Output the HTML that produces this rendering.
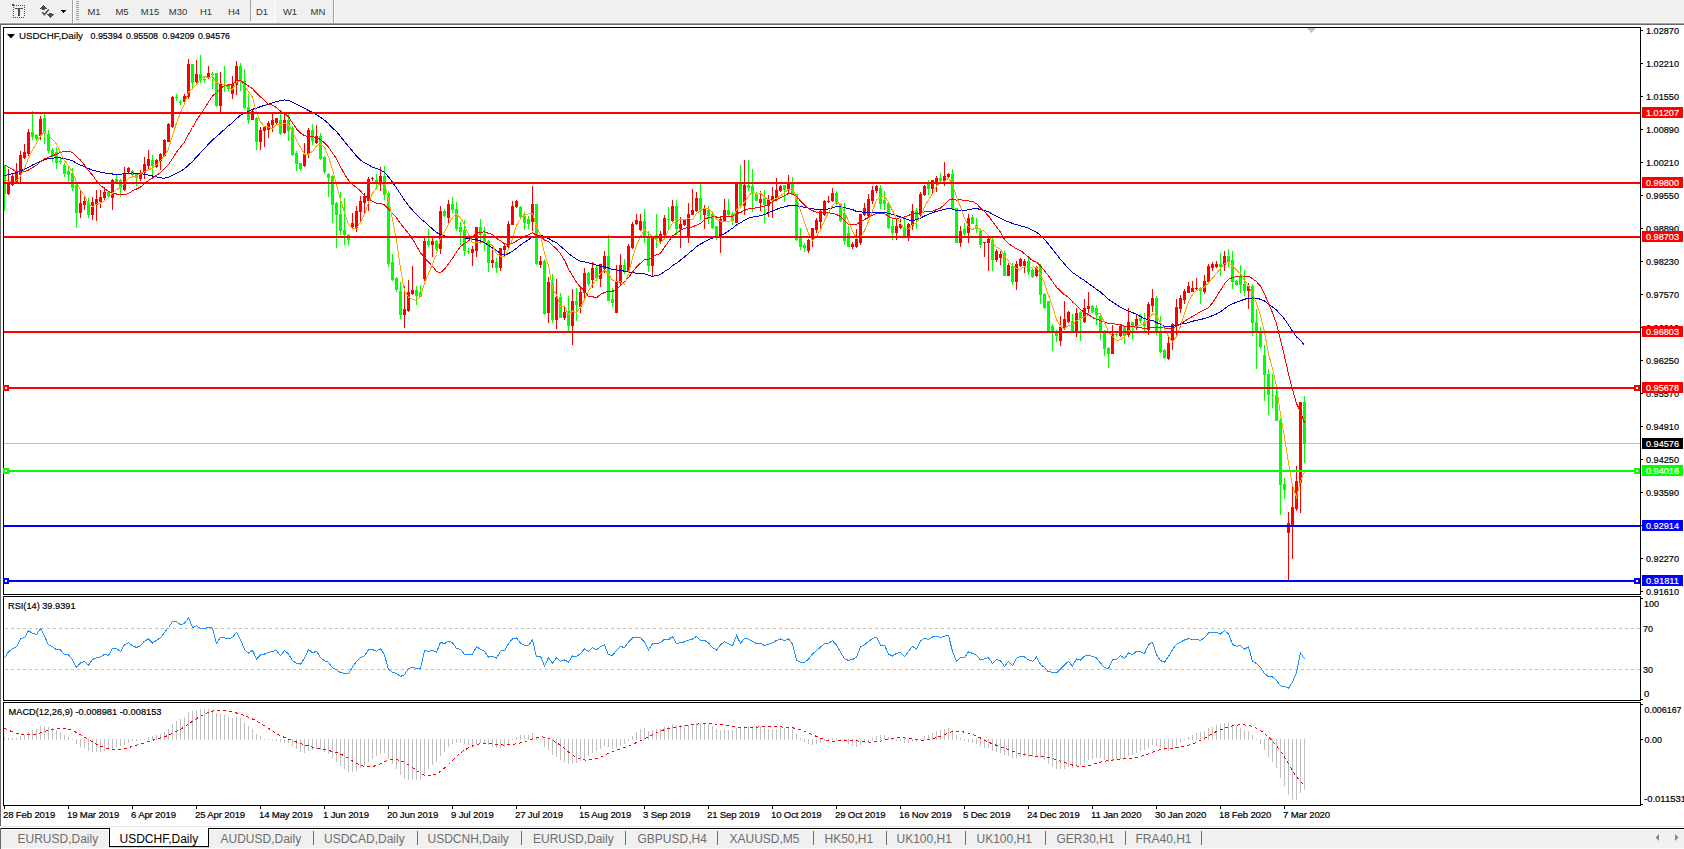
<!DOCTYPE html><html><head><meta charset="utf-8"><title>USDCHF,Daily</title><style>html,body{margin:0;padding:0;background:#fff;overflow:hidden}body{width:1684px;height:849px}svg{display:block}text{font-family:"Liberation Sans", sans-serif}</style></head><body><svg width="1684" height="849" viewBox="0 0 1684 849" font-family='"Liberation Sans", sans-serif' shape-rendering="crispEdges"><rect x="0" y="0" width="1684" height="849" fill="#ffffff"/><rect x="0" y="0" width="1684" height="22" fill="#f0f0f0"/><rect x="0" y="22" width="1684" height="1" fill="#f5f5f5"/><rect x="0" y="23" width="1684" height="1" fill="#a0a0a0"/><rect x="0" y="24" width="1684" height="1" fill="#696969"/><rect x="0" y="24" width="1" height="802" fill="#696969"/><rect x="16" y="5" width="1" height="1" fill="#4d4d4d"/><rect x="18" y="5" width="1" height="1" fill="#4d4d4d"/><rect x="20" y="5" width="1" height="1" fill="#4d4d4d"/><rect x="22" y="5" width="1" height="1" fill="#4d4d4d"/><rect x="24" y="5" width="1" height="1" fill="#4d4d4d"/><rect x="13" y="17" width="1" height="1" fill="#4d4d4d"/><rect x="15" y="17" width="1" height="1" fill="#4d4d4d"/><rect x="17" y="17" width="1" height="1" fill="#4d4d4d"/><rect x="19" y="17" width="1" height="1" fill="#4d4d4d"/><rect x="21" y="17" width="1" height="1" fill="#4d4d4d"/><rect x="23" y="17" width="1" height="1" fill="#4d4d4d"/><rect x="13" y="7" width="1" height="1" fill="#4d4d4d"/><rect x="13" y="9" width="1" height="1" fill="#4d4d4d"/><rect x="13" y="11" width="1" height="1" fill="#4d4d4d"/><rect x="13" y="13" width="1" height="1" fill="#4d4d4d"/><rect x="13" y="15" width="1" height="1" fill="#4d4d4d"/><rect x="24" y="7" width="1" height="1" fill="#4d4d4d"/><rect x="24" y="9" width="1" height="1" fill="#4d4d4d"/><rect x="24" y="11" width="1" height="1" fill="#4d4d4d"/><rect x="24" y="13" width="1" height="1" fill="#4d4d4d"/><rect x="24" y="15" width="1" height="1" fill="#4d4d4d"/><rect x="12" y="4" width="2" height="1" fill="#4d4d4d"/><rect x="12" y="5" width="3" height="1" fill="#4d4d4d"/><rect x="15" y="8" width="8" height="1" fill="#4d4d4d"/><rect x="18" y="8" width="2" height="8" fill="#4d4d4d"/><rect x="43" y="5" width="1" height="1" fill="#4d4d4d"/><rect x="42" y="6" width="3" height="1" fill="#4d4d4d"/><rect x="41" y="7" width="5" height="1" fill="#4d4d4d"/><rect x="40" y="8" width="7" height="1" fill="#4d4d4d"/><rect x="42" y="9" width="3" height="1" fill="#4d4d4d"/><rect x="49" y="13" width="3" height="1" fill="#4d4d4d"/><rect x="47" y="14" width="7" height="1" fill="#4d4d4d"/><rect x="48" y="15" width="5" height="1" fill="#4d4d4d"/><rect x="49" y="16" width="3" height="1" fill="#4d4d4d"/><rect x="50" y="17" width="1" height="1" fill="#4d4d4d"/><path d="M42.2 12.3 L44.4 14.6 L48.8 9.6" fill="none" stroke="#4d4d4d" stroke-width="1.5" shape-rendering="auto"/><rect x="61" y="10" width="5" height="1" fill="#000"/><rect x="62" y="11" width="3" height="1" fill="#000"/><rect x="63" y="12" width="1" height="1" fill="#000"/><rect x="72" y="0" width="1" height="23" fill="#a0a0a0"/><rect x="73" y="0" width="1" height="23" fill="#ffffff"/><rect x="76" y="1" width="3" height="1" fill="#a0a0a0"/><rect x="76" y="3" width="3" height="1" fill="#a0a0a0"/><rect x="76" y="5" width="3" height="1" fill="#a0a0a0"/><rect x="76" y="7" width="3" height="1" fill="#a0a0a0"/><rect x="76" y="9" width="3" height="1" fill="#a0a0a0"/><rect x="76" y="11" width="3" height="1" fill="#a0a0a0"/><rect x="76" y="13" width="3" height="1" fill="#a0a0a0"/><rect x="76" y="15" width="3" height="1" fill="#a0a0a0"/><rect x="76" y="17" width="3" height="1" fill="#a0a0a0"/><rect x="76" y="19" width="3" height="1" fill="#a0a0a0"/><defs><pattern id="chk" width="2" height="2" patternUnits="userSpaceOnUse"><rect width="2" height="2" fill="#f0f0f0"/><rect width="1" height="1" fill="#f8f8f8"/><rect x="1" y="1" width="1" height="1" fill="#f8f8f8"/></pattern></defs><rect x="251" y="1" width="24" height="20" fill="url(#chk)"/><rect x="250" y="0" width="1" height="21" fill="#a0a0a0"/><rect x="250" y="21" width="26" height="1" fill="#ffffff"/><rect x="275" y="0" width="1" height="22" fill="#ffffff"/><rect x="333" y="0" width="1" height="23" fill="#a0a0a0"/><rect x="334" y="0" width="1" height="23" fill="#ffffff"/><text x="94" y="15" font-size="9.5" fill="#333333" text-anchor="middle">M1</text><text x="122" y="15" font-size="9.5" fill="#333333" text-anchor="middle">M5</text><text x="150" y="15" font-size="9.5" fill="#333333" text-anchor="middle">M15</text><text x="178" y="15" font-size="9.5" fill="#333333" text-anchor="middle">M30</text><text x="206" y="15" font-size="9.5" fill="#333333" text-anchor="middle">H1</text><text x="234" y="15" font-size="9.5" fill="#333333" text-anchor="middle">H4</text><text x="262" y="15" font-size="9.5" fill="#333333" text-anchor="middle">D1</text><text x="290" y="15" font-size="9.5" fill="#333333" text-anchor="middle">W1</text><text x="318" y="15" font-size="9.5" fill="#333333" text-anchor="middle">MN</text><rect x="3" y="27" width="1638" height="1" fill="#000"/><rect x="3" y="594" width="1638" height="1" fill="#000"/><rect x="3" y="27" width="1" height="568" fill="#000"/><rect x="1640" y="27" width="1" height="568" fill="#000"/><rect x="3" y="596" width="1638" height="1" fill="#000"/><rect x="3" y="700" width="1638" height="1" fill="#000"/><rect x="3" y="596" width="1" height="105" fill="#000"/><rect x="1640" y="596" width="1" height="105" fill="#000"/><rect x="3" y="702" width="1638" height="1" fill="#000"/><rect x="3" y="805" width="1638" height="1" fill="#000"/><rect x="3" y="702" width="1" height="104" fill="#000"/><rect x="1640" y="702" width="1" height="104" fill="#000"/><rect x="1641" y="30" width="2" height="1" fill="#000"/><text x="1646" y="34" font-size="9.6" fill="#000" stroke="#000" stroke-width="0.2" textLength="33" lengthAdjust="spacingAndGlyphs">1.02870</text><rect x="1641" y="63" width="2" height="1" fill="#000"/><text x="1646" y="67" font-size="9.6" fill="#000" stroke="#000" stroke-width="0.2" textLength="33" lengthAdjust="spacingAndGlyphs">1.02210</text><rect x="1641" y="96" width="2" height="1" fill="#000"/><text x="1646" y="100" font-size="9.6" fill="#000" stroke="#000" stroke-width="0.2" textLength="33" lengthAdjust="spacingAndGlyphs">1.01550</text><rect x="1641" y="129" width="2" height="1" fill="#000"/><text x="1646" y="133" font-size="9.6" fill="#000" stroke="#000" stroke-width="0.2" textLength="33" lengthAdjust="spacingAndGlyphs">1.00890</text><rect x="1641" y="162" width="2" height="1" fill="#000"/><text x="1646" y="166" font-size="9.6" fill="#000" stroke="#000" stroke-width="0.2" textLength="33" lengthAdjust="spacingAndGlyphs">1.00210</text><rect x="1641" y="195" width="2" height="1" fill="#000"/><text x="1646" y="199" font-size="9.6" fill="#000" stroke="#000" stroke-width="0.2" textLength="33" lengthAdjust="spacingAndGlyphs">0.99550</text><rect x="1641" y="228" width="2" height="1" fill="#000"/><text x="1646" y="232" font-size="9.6" fill="#000" stroke="#000" stroke-width="0.2" textLength="33" lengthAdjust="spacingAndGlyphs">0.98890</text><rect x="1641" y="261" width="2" height="1" fill="#000"/><text x="1646" y="265" font-size="9.6" fill="#000" stroke="#000" stroke-width="0.2" textLength="33" lengthAdjust="spacingAndGlyphs">0.98230</text><rect x="1641" y="294" width="2" height="1" fill="#000"/><text x="1646" y="298" font-size="9.6" fill="#000" stroke="#000" stroke-width="0.2" textLength="33" lengthAdjust="spacingAndGlyphs">0.97570</text><rect x="1641" y="327" width="2" height="1" fill="#000"/><text x="1646" y="331" font-size="9.6" fill="#000" stroke="#000" stroke-width="0.2" textLength="33" lengthAdjust="spacingAndGlyphs">0.96910</text><rect x="1641" y="360" width="2" height="1" fill="#000"/><text x="1646" y="364" font-size="9.6" fill="#000" stroke="#000" stroke-width="0.2" textLength="33" lengthAdjust="spacingAndGlyphs">0.96250</text><rect x="1641" y="393" width="2" height="1" fill="#000"/><text x="1646" y="397" font-size="9.6" fill="#000" stroke="#000" stroke-width="0.2" textLength="33" lengthAdjust="spacingAndGlyphs">0.95570</text><rect x="1641" y="426" width="2" height="1" fill="#000"/><text x="1646" y="430" font-size="9.6" fill="#000" stroke="#000" stroke-width="0.2" textLength="33" lengthAdjust="spacingAndGlyphs">0.94910</text><rect x="1641" y="459" width="2" height="1" fill="#000"/><text x="1646" y="463" font-size="9.6" fill="#000" stroke="#000" stroke-width="0.2" textLength="33" lengthAdjust="spacingAndGlyphs">0.94250</text><rect x="1641" y="492" width="2" height="1" fill="#000"/><text x="1646" y="496" font-size="9.6" fill="#000" stroke="#000" stroke-width="0.2" textLength="33" lengthAdjust="spacingAndGlyphs">0.93590</text><rect x="1641" y="525" width="2" height="1" fill="#000"/><text x="1646" y="529" font-size="9.6" fill="#000" stroke="#000" stroke-width="0.2" textLength="33" lengthAdjust="spacingAndGlyphs">0.92930</text><rect x="1641" y="558" width="2" height="1" fill="#000"/><text x="1646" y="562" font-size="9.6" fill="#000" stroke="#000" stroke-width="0.2" textLength="33" lengthAdjust="spacingAndGlyphs">0.92270</text><rect x="1641" y="591" width="2" height="1" fill="#000"/><text x="1646" y="595" font-size="9.6" fill="#000" stroke="#000" stroke-width="0.2" textLength="33" lengthAdjust="spacingAndGlyphs">0.91610</text><rect x="4" y="443" width="1636" height="1" fill="#c0c0c0"/><defs><clipPath id="cm"><rect x="4" y="28" width="1636" height="566"/></clipPath><clipPath id="cr"><rect x="4" y="597" width="1636" height="103"/></clipPath><clipPath id="cd"><rect x="4" y="703" width="1636" height="102"/></clipPath></defs><g clip-path="url(#cm)"><rect x="4" y="165" width="1" height="46" fill="#00ff00"/><rect x="3" y="166" width="3" height="28" fill="#00ff00"/><rect x="8" y="169" width="1" height="26" fill="#ff0000"/><rect x="7" y="182" width="3" height="12" fill="#ff0000"/><rect x="12" y="174" width="1" height="12" fill="#ff0000"/><rect x="11" y="176" width="3" height="9" fill="#ff0000"/><rect x="16" y="163" width="1" height="20" fill="#ff0000"/><rect x="15" y="173" width="3" height="9" fill="#ff0000"/><rect x="20" y="151" width="1" height="31" fill="#ff0000"/><rect x="19" y="155" width="3" height="20" fill="#ff0000"/><rect x="24" y="144" width="1" height="15" fill="#ff0000"/><rect x="23" y="152" width="3" height="6" fill="#ff0000"/><rect x="28" y="129" width="1" height="27" fill="#ff0000"/><rect x="27" y="132" width="3" height="22" fill="#ff0000"/><rect x="32" y="111" width="1" height="29" fill="#00ff00"/><rect x="31" y="132" width="3" height="5" fill="#00ff00"/><rect x="36" y="134" width="1" height="7" fill="#00ff00"/><rect x="35" y="135" width="3" height="4" fill="#00ff00"/><rect x="40" y="116" width="1" height="24" fill="#ff0000"/><rect x="39" y="119" width="3" height="17" fill="#ff0000"/><rect x="44" y="114" width="1" height="30" fill="#00ff00"/><rect x="43" y="118" width="3" height="15" fill="#00ff00"/><rect x="48" y="130" width="1" height="23" fill="#00ff00"/><rect x="47" y="134" width="3" height="17" fill="#00ff00"/><rect x="52" y="148" width="1" height="14" fill="#00ff00"/><rect x="51" y="150" width="3" height="5" fill="#00ff00"/><rect x="56" y="147" width="1" height="22" fill="#00ff00"/><rect x="55" y="152" width="3" height="11" fill="#00ff00"/><rect x="60" y="158" width="1" height="6" fill="#00ff00"/><rect x="59" y="161" width="3" height="1" fill="#00ff00"/><rect x="64" y="163" width="1" height="14" fill="#00ff00"/><rect x="63" y="165" width="3" height="9" fill="#00ff00"/><rect x="68" y="165" width="1" height="18" fill="#00ff00"/><rect x="67" y="171" width="3" height="4" fill="#00ff00"/><rect x="72" y="168" width="1" height="23" fill="#00ff00"/><rect x="71" y="173" width="3" height="15" fill="#00ff00"/><rect x="76" y="183" width="1" height="45" fill="#00ff00"/><rect x="75" y="185" width="3" height="28" fill="#00ff00"/><rect x="80" y="189" width="1" height="29" fill="#ff0000"/><rect x="79" y="203" width="3" height="10" fill="#ff0000"/><rect x="84" y="197" width="1" height="13" fill="#ff0000"/><rect x="83" y="201" width="3" height="4" fill="#ff0000"/><rect x="88" y="198" width="1" height="20" fill="#00ff00"/><rect x="87" y="203" width="3" height="12" fill="#00ff00"/><rect x="92" y="197" width="1" height="23" fill="#ff0000"/><rect x="91" y="202" width="3" height="13" fill="#ff0000"/><rect x="96" y="190" width="1" height="31" fill="#ff0000"/><rect x="95" y="199" width="3" height="6" fill="#ff0000"/><rect x="100" y="190" width="1" height="18" fill="#ff0000"/><rect x="99" y="197" width="3" height="5" fill="#ff0000"/><rect x="104" y="187" width="1" height="13" fill="#ff0000"/><rect x="103" y="192" width="3" height="6" fill="#ff0000"/><rect x="108" y="192" width="1" height="6" fill="#00ff00"/><rect x="107" y="192" width="3" height="4" fill="#00ff00"/><rect x="112" y="179" width="1" height="31" fill="#ff0000"/><rect x="111" y="180" width="3" height="18" fill="#ff0000"/><rect x="116" y="174" width="1" height="9" fill="#00ff00"/><rect x="115" y="179" width="3" height="3" fill="#00ff00"/><rect x="120" y="179" width="1" height="18" fill="#00ff00"/><rect x="119" y="180" width="3" height="8" fill="#00ff00"/><rect x="124" y="167" width="1" height="24" fill="#ff0000"/><rect x="123" y="173" width="3" height="17" fill="#ff0000"/><rect x="128" y="167" width="1" height="7" fill="#ff0000"/><rect x="127" y="168" width="3" height="4" fill="#ff0000"/><rect x="132" y="170" width="1" height="6" fill="#00ff00"/><rect x="131" y="171" width="3" height="4" fill="#00ff00"/><rect x="136" y="173" width="1" height="13" fill="#00ff00"/><rect x="135" y="174" width="3" height="4" fill="#00ff00"/><rect x="140" y="170" width="1" height="11" fill="#ff0000"/><rect x="139" y="174" width="3" height="5" fill="#ff0000"/><rect x="144" y="157" width="1" height="22" fill="#ff0000"/><rect x="143" y="164" width="3" height="9" fill="#ff0000"/><rect x="148" y="150" width="1" height="20" fill="#ff0000"/><rect x="147" y="159" width="3" height="7" fill="#ff0000"/><rect x="152" y="155" width="1" height="21" fill="#00ff00"/><rect x="151" y="160" width="3" height="6" fill="#00ff00"/><rect x="156" y="159" width="1" height="9" fill="#ff0000"/><rect x="155" y="160" width="3" height="7" fill="#ff0000"/><rect x="160" y="153" width="1" height="17" fill="#ff0000"/><rect x="159" y="154" width="3" height="7" fill="#ff0000"/><rect x="164" y="139" width="1" height="17" fill="#ff0000"/><rect x="163" y="140" width="3" height="16" fill="#ff0000"/><rect x="168" y="123" width="1" height="19" fill="#ff0000"/><rect x="167" y="124" width="3" height="18" fill="#ff0000"/><rect x="172" y="96" width="1" height="32" fill="#ff0000"/><rect x="171" y="97" width="3" height="30" fill="#ff0000"/><rect x="176" y="94" width="1" height="7" fill="#00ff00"/><rect x="175" y="97" width="3" height="1" fill="#00ff00"/><rect x="180" y="100" width="1" height="5" fill="#00ff00"/><rect x="179" y="102" width="3" height="1" fill="#00ff00"/><rect x="184" y="94" width="1" height="9" fill="#ff0000"/><rect x="183" y="96" width="3" height="6" fill="#ff0000"/><rect x="188" y="59" width="1" height="40" fill="#ff0000"/><rect x="187" y="64" width="3" height="33" fill="#ff0000"/><rect x="192" y="64" width="1" height="25" fill="#00ff00"/><rect x="191" y="64" width="3" height="19" fill="#00ff00"/><rect x="196" y="60" width="1" height="23" fill="#ff0000"/><rect x="195" y="74" width="3" height="8" fill="#ff0000"/><rect x="200" y="55" width="1" height="28" fill="#00ff00"/><rect x="199" y="74" width="3" height="6" fill="#00ff00"/><rect x="204" y="76" width="1" height="7" fill="#00ff00"/><rect x="203" y="79" width="3" height="1" fill="#00ff00"/><rect x="208" y="66" width="1" height="13" fill="#ff0000"/><rect x="207" y="73" width="3" height="4" fill="#ff0000"/><rect x="212" y="72" width="1" height="17" fill="#00ff00"/><rect x="211" y="74" width="3" height="1" fill="#00ff00"/><rect x="216" y="73" width="1" height="34" fill="#00ff00"/><rect x="215" y="73" width="3" height="33" fill="#00ff00"/><rect x="220" y="72" width="1" height="40" fill="#ff0000"/><rect x="219" y="84" width="3" height="22" fill="#ff0000"/><rect x="224" y="66" width="1" height="26" fill="#00ff00"/><rect x="223" y="84" width="3" height="1" fill="#00ff00"/><rect x="228" y="84" width="1" height="7" fill="#00ff00"/><rect x="227" y="84" width="3" height="5" fill="#00ff00"/><rect x="232" y="76" width="1" height="23" fill="#ff0000"/><rect x="231" y="84" width="3" height="10" fill="#ff0000"/><rect x="236" y="61" width="1" height="34" fill="#ff0000"/><rect x="235" y="66" width="3" height="19" fill="#ff0000"/><rect x="240" y="63" width="1" height="28" fill="#00ff00"/><rect x="239" y="66" width="3" height="16" fill="#00ff00"/><rect x="244" y="69" width="1" height="40" fill="#00ff00"/><rect x="243" y="81" width="3" height="27" fill="#00ff00"/><rect x="248" y="94" width="1" height="30" fill="#00ff00"/><rect x="247" y="107" width="3" height="13" fill="#00ff00"/><rect x="252" y="110" width="1" height="10" fill="#ff0000"/><rect x="251" y="111" width="3" height="9" fill="#ff0000"/><rect x="256" y="117" width="1" height="33" fill="#00ff00"/><rect x="255" y="118" width="3" height="24" fill="#00ff00"/><rect x="260" y="127" width="1" height="23" fill="#ff0000"/><rect x="259" y="130" width="3" height="12" fill="#ff0000"/><rect x="264" y="127" width="1" height="20" fill="#ff0000"/><rect x="263" y="127" width="3" height="4" fill="#ff0000"/><rect x="268" y="121" width="1" height="17" fill="#ff0000"/><rect x="267" y="123" width="3" height="7" fill="#ff0000"/><rect x="272" y="114" width="1" height="18" fill="#ff0000"/><rect x="271" y="120" width="3" height="5" fill="#ff0000"/><rect x="276" y="118" width="1" height="7" fill="#ff0000"/><rect x="275" y="118" width="3" height="5" fill="#ff0000"/><rect x="280" y="114" width="1" height="21" fill="#00ff00"/><rect x="279" y="120" width="3" height="14" fill="#00ff00"/><rect x="284" y="113" width="1" height="21" fill="#ff0000"/><rect x="283" y="120" width="3" height="13" fill="#ff0000"/><rect x="288" y="114" width="1" height="27" fill="#00ff00"/><rect x="287" y="120" width="3" height="11" fill="#00ff00"/><rect x="292" y="126" width="1" height="30" fill="#00ff00"/><rect x="291" y="128" width="3" height="27" fill="#00ff00"/><rect x="296" y="151" width="1" height="20" fill="#00ff00"/><rect x="295" y="153" width="3" height="11" fill="#00ff00"/><rect x="300" y="163" width="1" height="8" fill="#00ff00"/><rect x="299" y="163" width="3" height="6" fill="#00ff00"/><rect x="304" y="143" width="1" height="24" fill="#ff0000"/><rect x="303" y="154" width="3" height="12" fill="#ff0000"/><rect x="308" y="128" width="1" height="30" fill="#ff0000"/><rect x="307" y="130" width="3" height="24" fill="#ff0000"/><rect x="312" y="124" width="1" height="21" fill="#00ff00"/><rect x="311" y="130" width="3" height="11" fill="#00ff00"/><rect x="316" y="125" width="1" height="19" fill="#ff0000"/><rect x="315" y="136" width="3" height="7" fill="#ff0000"/><rect x="320" y="133" width="1" height="27" fill="#00ff00"/><rect x="319" y="136" width="3" height="23" fill="#00ff00"/><rect x="324" y="156" width="1" height="18" fill="#00ff00"/><rect x="323" y="157" width="3" height="15" fill="#00ff00"/><rect x="328" y="173" width="1" height="24" fill="#00ff00"/><rect x="327" y="174" width="3" height="4" fill="#00ff00"/><rect x="332" y="175" width="1" height="48" fill="#00ff00"/><rect x="331" y="176" width="3" height="29" fill="#00ff00"/><rect x="336" y="202" width="1" height="46" fill="#00ff00"/><rect x="335" y="203" width="3" height="12" fill="#00ff00"/><rect x="340" y="192" width="1" height="43" fill="#00ff00"/><rect x="339" y="214" width="3" height="17" fill="#00ff00"/><rect x="344" y="198" width="1" height="47" fill="#00ff00"/><rect x="343" y="230" width="3" height="5" fill="#00ff00"/><rect x="348" y="234" width="1" height="11" fill="#00ff00"/><rect x="347" y="235" width="3" height="5" fill="#00ff00"/><rect x="352" y="213" width="1" height="15" fill="#ff0000"/><rect x="351" y="223" width="3" height="4" fill="#ff0000"/><rect x="356" y="206" width="1" height="26" fill="#ff0000"/><rect x="355" y="211" width="3" height="17" fill="#ff0000"/><rect x="360" y="196" width="1" height="27" fill="#ff0000"/><rect x="359" y="201" width="3" height="11" fill="#ff0000"/><rect x="364" y="193" width="1" height="22" fill="#ff0000"/><rect x="363" y="196" width="3" height="7" fill="#ff0000"/><rect x="368" y="177" width="1" height="34" fill="#ff0000"/><rect x="367" y="179" width="3" height="22" fill="#ff0000"/><rect x="372" y="177" width="1" height="4" fill="#ff0000"/><rect x="371" y="178" width="3" height="1" fill="#ff0000"/><rect x="376" y="174" width="1" height="15" fill="#00ff00"/><rect x="375" y="180" width="3" height="3" fill="#00ff00"/><rect x="380" y="167" width="1" height="24" fill="#ff0000"/><rect x="379" y="176" width="3" height="8" fill="#ff0000"/><rect x="384" y="166" width="1" height="34" fill="#00ff00"/><rect x="383" y="176" width="3" height="19" fill="#00ff00"/><rect x="388" y="191" width="1" height="76" fill="#00ff00"/><rect x="387" y="193" width="3" height="71" fill="#00ff00"/><rect x="392" y="254" width="1" height="27" fill="#00ff00"/><rect x="391" y="262" width="3" height="18" fill="#00ff00"/><rect x="396" y="277" width="1" height="15" fill="#00ff00"/><rect x="395" y="278" width="3" height="12" fill="#00ff00"/><rect x="400" y="282" width="1" height="37" fill="#00ff00"/><rect x="399" y="291" width="3" height="24" fill="#00ff00"/><rect x="404" y="286" width="1" height="42" fill="#ff0000"/><rect x="403" y="309" width="3" height="6" fill="#ff0000"/><rect x="408" y="280" width="1" height="32" fill="#ff0000"/><rect x="407" y="292" width="3" height="19" fill="#ff0000"/><rect x="412" y="266" width="1" height="29" fill="#ff0000"/><rect x="411" y="290" width="3" height="4" fill="#ff0000"/><rect x="416" y="286" width="1" height="19" fill="#00ff00"/><rect x="415" y="290" width="3" height="6" fill="#00ff00"/><rect x="420" y="286" width="1" height="11" fill="#00ff00"/><rect x="419" y="292" width="3" height="5" fill="#00ff00"/><rect x="424" y="238" width="1" height="43" fill="#ff0000"/><rect x="423" y="241" width="3" height="38" fill="#ff0000"/><rect x="428" y="229" width="1" height="18" fill="#00ff00"/><rect x="427" y="241" width="3" height="4" fill="#00ff00"/><rect x="432" y="238" width="1" height="19" fill="#ff0000"/><rect x="431" y="241" width="3" height="4" fill="#ff0000"/><rect x="436" y="240" width="1" height="11" fill="#00ff00"/><rect x="435" y="241" width="3" height="8" fill="#00ff00"/><rect x="440" y="206" width="1" height="48" fill="#ff0000"/><rect x="439" y="211" width="3" height="38" fill="#ff0000"/><rect x="444" y="209" width="1" height="8" fill="#00ff00"/><rect x="443" y="211" width="3" height="5" fill="#00ff00"/><rect x="448" y="200" width="1" height="24" fill="#ff0000"/><rect x="447" y="204" width="3" height="14" fill="#ff0000"/><rect x="452" y="197" width="1" height="16" fill="#00ff00"/><rect x="451" y="204" width="3" height="6" fill="#00ff00"/><rect x="456" y="202" width="1" height="29" fill="#00ff00"/><rect x="455" y="209" width="3" height="20" fill="#00ff00"/><rect x="460" y="222" width="1" height="23" fill="#00ff00"/><rect x="459" y="227" width="3" height="5" fill="#00ff00"/><rect x="464" y="220" width="1" height="36" fill="#00ff00"/><rect x="463" y="230" width="3" height="21" fill="#00ff00"/><rect x="468" y="248" width="1" height="6" fill="#00ff00"/><rect x="467" y="251" width="3" height="1" fill="#00ff00"/><rect x="472" y="246" width="1" height="20" fill="#ff0000"/><rect x="471" y="249" width="3" height="4" fill="#ff0000"/><rect x="476" y="227" width="1" height="30" fill="#ff0000"/><rect x="475" y="227" width="3" height="24" fill="#ff0000"/><rect x="480" y="219" width="1" height="21" fill="#00ff00"/><rect x="479" y="227" width="3" height="8" fill="#00ff00"/><rect x="484" y="227" width="1" height="24" fill="#00ff00"/><rect x="483" y="234" width="3" height="8" fill="#00ff00"/><rect x="488" y="240" width="1" height="32" fill="#00ff00"/><rect x="487" y="241" width="3" height="22" fill="#00ff00"/><rect x="492" y="250" width="1" height="18" fill="#ff0000"/><rect x="491" y="260" width="3" height="3" fill="#ff0000"/><rect x="496" y="258" width="1" height="15" fill="#00ff00"/><rect x="495" y="262" width="3" height="6" fill="#00ff00"/><rect x="500" y="248" width="1" height="23" fill="#ff0000"/><rect x="499" y="248" width="3" height="20" fill="#ff0000"/><rect x="504" y="243" width="1" height="12" fill="#ff0000"/><rect x="503" y="246" width="3" height="4" fill="#ff0000"/><rect x="508" y="221" width="1" height="28" fill="#ff0000"/><rect x="507" y="224" width="3" height="23" fill="#ff0000"/><rect x="512" y="201" width="1" height="24" fill="#ff0000"/><rect x="511" y="206" width="3" height="19" fill="#ff0000"/><rect x="516" y="200" width="1" height="8" fill="#ff0000"/><rect x="515" y="201" width="3" height="6" fill="#ff0000"/><rect x="520" y="206" width="1" height="13" fill="#00ff00"/><rect x="519" y="207" width="3" height="10" fill="#00ff00"/><rect x="524" y="212" width="1" height="18" fill="#00ff00"/><rect x="523" y="216" width="3" height="7" fill="#00ff00"/><rect x="528" y="216" width="1" height="13" fill="#00ff00"/><rect x="527" y="219" width="3" height="5" fill="#00ff00"/><rect x="532" y="186" width="1" height="45" fill="#ff0000"/><rect x="531" y="204" width="3" height="18" fill="#ff0000"/><rect x="536" y="204" width="1" height="61" fill="#00ff00"/><rect x="535" y="204" width="3" height="60" fill="#00ff00"/><rect x="540" y="256" width="1" height="12" fill="#ff0000"/><rect x="539" y="261" width="3" height="4" fill="#ff0000"/><rect x="544" y="259" width="1" height="56" fill="#00ff00"/><rect x="543" y="261" width="3" height="53" fill="#00ff00"/><rect x="548" y="277" width="1" height="46" fill="#ff0000"/><rect x="547" y="282" width="3" height="31" fill="#ff0000"/><rect x="552" y="274" width="1" height="49" fill="#00ff00"/><rect x="551" y="283" width="3" height="37" fill="#00ff00"/><rect x="556" y="279" width="1" height="50" fill="#ff0000"/><rect x="555" y="297" width="3" height="23" fill="#ff0000"/><rect x="560" y="293" width="1" height="25" fill="#00ff00"/><rect x="559" y="297" width="3" height="21" fill="#00ff00"/><rect x="564" y="307" width="1" height="13" fill="#ff0000"/><rect x="563" y="312" width="3" height="6" fill="#ff0000"/><rect x="568" y="296" width="1" height="36" fill="#00ff00"/><rect x="567" y="311" width="3" height="15" fill="#00ff00"/><rect x="572" y="289" width="1" height="56" fill="#ff0000"/><rect x="571" y="301" width="3" height="25" fill="#ff0000"/><rect x="576" y="288" width="1" height="33" fill="#00ff00"/><rect x="575" y="301" width="3" height="4" fill="#00ff00"/><rect x="580" y="286" width="1" height="27" fill="#ff0000"/><rect x="579" y="292" width="3" height="15" fill="#ff0000"/><rect x="584" y="268" width="1" height="30" fill="#ff0000"/><rect x="583" y="273" width="3" height="20" fill="#ff0000"/><rect x="588" y="272" width="1" height="14" fill="#00ff00"/><rect x="587" y="273" width="3" height="11" fill="#00ff00"/><rect x="592" y="262" width="1" height="26" fill="#ff0000"/><rect x="591" y="268" width="3" height="12" fill="#ff0000"/><rect x="596" y="265" width="1" height="16" fill="#00ff00"/><rect x="595" y="268" width="3" height="10" fill="#00ff00"/><rect x="600" y="264" width="1" height="23" fill="#ff0000"/><rect x="599" y="264" width="3" height="15" fill="#ff0000"/><rect x="604" y="251" width="1" height="22" fill="#ff0000"/><rect x="603" y="256" width="3" height="13" fill="#ff0000"/><rect x="608" y="235" width="1" height="66" fill="#00ff00"/><rect x="607" y="256" width="3" height="45" fill="#00ff00"/><rect x="612" y="288" width="1" height="19" fill="#00ff00"/><rect x="611" y="299" width="3" height="4" fill="#00ff00"/><rect x="616" y="265" width="1" height="48" fill="#ff0000"/><rect x="615" y="282" width="3" height="31" fill="#ff0000"/><rect x="620" y="254" width="1" height="31" fill="#ff0000"/><rect x="619" y="265" width="3" height="18" fill="#ff0000"/><rect x="624" y="259" width="1" height="15" fill="#00ff00"/><rect x="623" y="265" width="3" height="6" fill="#00ff00"/><rect x="628" y="244" width="1" height="28" fill="#ff0000"/><rect x="627" y="246" width="3" height="25" fill="#ff0000"/><rect x="632" y="222" width="1" height="27" fill="#ff0000"/><rect x="631" y="224" width="3" height="24" fill="#ff0000"/><rect x="636" y="214" width="1" height="11" fill="#ff0000"/><rect x="635" y="220" width="3" height="4" fill="#ff0000"/><rect x="640" y="214" width="1" height="17" fill="#ff0000"/><rect x="639" y="221" width="3" height="9" fill="#ff0000"/><rect x="644" y="209" width="1" height="34" fill="#00ff00"/><rect x="643" y="221" width="3" height="16" fill="#00ff00"/><rect x="648" y="231" width="1" height="41" fill="#00ff00"/><rect x="647" y="236" width="3" height="30" fill="#00ff00"/><rect x="652" y="236" width="1" height="40" fill="#ff0000"/><rect x="651" y="238" width="3" height="28" fill="#ff0000"/><rect x="656" y="214" width="1" height="34" fill="#00ff00"/><rect x="655" y="235" width="3" height="4" fill="#00ff00"/><rect x="660" y="231" width="1" height="13" fill="#ff0000"/><rect x="659" y="234" width="3" height="7" fill="#ff0000"/><rect x="664" y="215" width="1" height="21" fill="#ff0000"/><rect x="663" y="218" width="3" height="17" fill="#ff0000"/><rect x="668" y="207" width="1" height="24" fill="#00ff00"/><rect x="667" y="219" width="3" height="1" fill="#00ff00"/><rect x="672" y="200" width="1" height="22" fill="#ff0000"/><rect x="671" y="206" width="3" height="15" fill="#ff0000"/><rect x="676" y="200" width="1" height="35" fill="#00ff00"/><rect x="675" y="206" width="3" height="23" fill="#00ff00"/><rect x="680" y="217" width="1" height="31" fill="#ff0000"/><rect x="679" y="224" width="3" height="5" fill="#ff0000"/><rect x="684" y="220" width="1" height="6" fill="#ff0000"/><rect x="683" y="220" width="3" height="5" fill="#ff0000"/><rect x="688" y="203" width="1" height="40" fill="#ff0000"/><rect x="687" y="214" width="3" height="23" fill="#ff0000"/><rect x="692" y="189" width="1" height="26" fill="#ff0000"/><rect x="691" y="210" width="3" height="5" fill="#ff0000"/><rect x="696" y="192" width="1" height="20" fill="#ff0000"/><rect x="695" y="198" width="3" height="13" fill="#ff0000"/><rect x="700" y="184" width="1" height="36" fill="#00ff00"/><rect x="699" y="198" width="3" height="13" fill="#00ff00"/><rect x="704" y="205" width="1" height="24" fill="#ff0000"/><rect x="703" y="208" width="3" height="7" fill="#ff0000"/><rect x="708" y="206" width="1" height="18" fill="#00ff00"/><rect x="707" y="210" width="3" height="6" fill="#00ff00"/><rect x="712" y="211" width="1" height="18" fill="#00ff00"/><rect x="711" y="214" width="3" height="14" fill="#00ff00"/><rect x="716" y="226" width="1" height="14" fill="#00ff00"/><rect x="715" y="226" width="3" height="10" fill="#00ff00"/><rect x="720" y="218" width="1" height="35" fill="#ff0000"/><rect x="719" y="219" width="3" height="17" fill="#ff0000"/><rect x="724" y="199" width="1" height="22" fill="#ff0000"/><rect x="723" y="210" width="3" height="11" fill="#ff0000"/><rect x="728" y="199" width="1" height="18" fill="#00ff00"/><rect x="727" y="210" width="3" height="5" fill="#00ff00"/><rect x="732" y="212" width="1" height="13" fill="#00ff00"/><rect x="731" y="214" width="3" height="7" fill="#00ff00"/><rect x="736" y="183" width="1" height="40" fill="#ff0000"/><rect x="735" y="184" width="3" height="39" fill="#ff0000"/><rect x="740" y="165" width="1" height="42" fill="#00ff00"/><rect x="739" y="184" width="3" height="22" fill="#00ff00"/><rect x="744" y="160" width="1" height="55" fill="#ff0000"/><rect x="743" y="185" width="3" height="21" fill="#ff0000"/><rect x="748" y="160" width="1" height="31" fill="#00ff00"/><rect x="747" y="185" width="3" height="3" fill="#00ff00"/><rect x="752" y="169" width="1" height="43" fill="#00ff00"/><rect x="751" y="186" width="3" height="8" fill="#00ff00"/><rect x="756" y="192" width="1" height="9" fill="#00ff00"/><rect x="755" y="194" width="3" height="7" fill="#00ff00"/><rect x="760" y="191" width="1" height="20" fill="#ff0000"/><rect x="759" y="199" width="3" height="4" fill="#ff0000"/><rect x="764" y="190" width="1" height="33" fill="#00ff00"/><rect x="763" y="198" width="3" height="7" fill="#00ff00"/><rect x="768" y="195" width="1" height="22" fill="#ff0000"/><rect x="767" y="200" width="3" height="6" fill="#ff0000"/><rect x="772" y="187" width="1" height="31" fill="#ff0000"/><rect x="771" y="196" width="3" height="5" fill="#ff0000"/><rect x="776" y="178" width="1" height="23" fill="#ff0000"/><rect x="775" y="190" width="3" height="8" fill="#ff0000"/><rect x="780" y="185" width="1" height="7" fill="#ff0000"/><rect x="779" y="186" width="3" height="5" fill="#ff0000"/><rect x="784" y="185" width="1" height="17" fill="#00ff00"/><rect x="783" y="185" width="3" height="5" fill="#00ff00"/><rect x="788" y="175" width="1" height="19" fill="#ff0000"/><rect x="787" y="184" width="3" height="6" fill="#ff0000"/><rect x="792" y="177" width="1" height="18" fill="#00ff00"/><rect x="791" y="184" width="3" height="11" fill="#00ff00"/><rect x="796" y="194" width="1" height="47" fill="#00ff00"/><rect x="795" y="194" width="3" height="46" fill="#00ff00"/><rect x="800" y="228" width="1" height="22" fill="#00ff00"/><rect x="799" y="238" width="3" height="9" fill="#00ff00"/><rect x="804" y="243" width="1" height="9" fill="#00ff00"/><rect x="803" y="245" width="3" height="3" fill="#00ff00"/><rect x="808" y="239" width="1" height="14" fill="#ff0000"/><rect x="807" y="240" width="3" height="11" fill="#ff0000"/><rect x="812" y="228" width="1" height="19" fill="#ff0000"/><rect x="811" y="228" width="3" height="12" fill="#ff0000"/><rect x="816" y="218" width="1" height="15" fill="#ff0000"/><rect x="815" y="220" width="3" height="10" fill="#ff0000"/><rect x="820" y="210" width="1" height="19" fill="#ff0000"/><rect x="819" y="211" width="3" height="11" fill="#ff0000"/><rect x="824" y="200" width="1" height="16" fill="#ff0000"/><rect x="823" y="201" width="3" height="14" fill="#ff0000"/><rect x="828" y="196" width="1" height="7" fill="#ff0000"/><rect x="827" y="201" width="3" height="1" fill="#ff0000"/><rect x="832" y="188" width="1" height="14" fill="#ff0000"/><rect x="831" y="193" width="3" height="8" fill="#ff0000"/><rect x="836" y="191" width="1" height="14" fill="#00ff00"/><rect x="835" y="193" width="3" height="11" fill="#00ff00"/><rect x="840" y="203" width="1" height="19" fill="#00ff00"/><rect x="839" y="204" width="3" height="17" fill="#00ff00"/><rect x="844" y="203" width="1" height="42" fill="#00ff00"/><rect x="843" y="213" width="3" height="28" fill="#00ff00"/><rect x="848" y="226" width="1" height="21" fill="#00ff00"/><rect x="847" y="233" width="3" height="14" fill="#00ff00"/><rect x="852" y="242" width="1" height="7" fill="#ff0000"/><rect x="851" y="244" width="3" height="3" fill="#ff0000"/><rect x="856" y="229" width="1" height="19" fill="#ff0000"/><rect x="855" y="239" width="3" height="8" fill="#ff0000"/><rect x="860" y="214" width="1" height="31" fill="#ff0000"/><rect x="859" y="214" width="3" height="29" fill="#ff0000"/><rect x="864" y="203" width="1" height="13" fill="#ff0000"/><rect x="863" y="208" width="3" height="7" fill="#ff0000"/><rect x="868" y="194" width="1" height="24" fill="#ff0000"/><rect x="867" y="199" width="3" height="17" fill="#ff0000"/><rect x="872" y="186" width="1" height="18" fill="#ff0000"/><rect x="871" y="190" width="3" height="11" fill="#ff0000"/><rect x="876" y="185" width="1" height="8" fill="#ff0000"/><rect x="875" y="186" width="3" height="5" fill="#ff0000"/><rect x="880" y="185" width="1" height="24" fill="#00ff00"/><rect x="879" y="188" width="3" height="16" fill="#00ff00"/><rect x="884" y="191" width="1" height="19" fill="#00ff00"/><rect x="883" y="200" width="3" height="4" fill="#00ff00"/><rect x="888" y="202" width="1" height="27" fill="#00ff00"/><rect x="887" y="203" width="3" height="25" fill="#00ff00"/><rect x="892" y="218" width="1" height="22" fill="#00ff00"/><rect x="891" y="226" width="3" height="7" fill="#00ff00"/><rect x="896" y="218" width="1" height="22" fill="#ff0000"/><rect x="895" y="226" width="3" height="7" fill="#ff0000"/><rect x="900" y="219" width="1" height="10" fill="#ff0000"/><rect x="899" y="224" width="3" height="4" fill="#ff0000"/><rect x="904" y="217" width="1" height="20" fill="#00ff00"/><rect x="903" y="228" width="3" height="9" fill="#00ff00"/><rect x="908" y="223" width="1" height="18" fill="#ff0000"/><rect x="907" y="224" width="3" height="14" fill="#ff0000"/><rect x="912" y="204" width="1" height="26" fill="#ff0000"/><rect x="911" y="211" width="3" height="15" fill="#ff0000"/><rect x="916" y="208" width="1" height="21" fill="#00ff00"/><rect x="915" y="211" width="3" height="8" fill="#00ff00"/><rect x="920" y="192" width="1" height="27" fill="#ff0000"/><rect x="919" y="194" width="3" height="21" fill="#ff0000"/><rect x="924" y="185" width="1" height="11" fill="#ff0000"/><rect x="923" y="186" width="3" height="9" fill="#ff0000"/><rect x="928" y="180" width="1" height="15" fill="#00ff00"/><rect x="927" y="184" width="3" height="5" fill="#00ff00"/><rect x="932" y="180" width="1" height="13" fill="#ff0000"/><rect x="931" y="180" width="3" height="9" fill="#ff0000"/><rect x="936" y="176" width="1" height="16" fill="#ff0000"/><rect x="935" y="178" width="3" height="4" fill="#ff0000"/><rect x="940" y="173" width="1" height="9" fill="#00ff00"/><rect x="939" y="178" width="3" height="3" fill="#00ff00"/><rect x="944" y="162" width="1" height="24" fill="#ff0000"/><rect x="943" y="176" width="3" height="5" fill="#ff0000"/><rect x="948" y="173" width="1" height="5" fill="#ff0000"/><rect x="947" y="174" width="3" height="3" fill="#ff0000"/><rect x="952" y="169" width="1" height="41" fill="#00ff00"/><rect x="951" y="174" width="3" height="35" fill="#00ff00"/><rect x="956" y="208" width="1" height="35" fill="#00ff00"/><rect x="955" y="208" width="3" height="35" fill="#00ff00"/><rect x="960" y="226" width="1" height="21" fill="#ff0000"/><rect x="959" y="231" width="3" height="12" fill="#ff0000"/><rect x="964" y="223" width="1" height="14" fill="#00ff00"/><rect x="963" y="229" width="3" height="5" fill="#00ff00"/><rect x="968" y="214" width="1" height="29" fill="#ff0000"/><rect x="967" y="218" width="3" height="15" fill="#ff0000"/><rect x="972" y="215" width="1" height="9" fill="#00ff00"/><rect x="971" y="217" width="3" height="7" fill="#00ff00"/><rect x="976" y="218" width="1" height="15" fill="#00ff00"/><rect x="975" y="225" width="3" height="4" fill="#00ff00"/><rect x="980" y="229" width="1" height="19" fill="#00ff00"/><rect x="979" y="231" width="3" height="14" fill="#00ff00"/><rect x="984" y="242" width="1" height="15" fill="#ff0000"/><rect x="983" y="242" width="3" height="1" fill="#ff0000"/><rect x="988" y="237" width="1" height="34" fill="#ff0000"/><rect x="987" y="239" width="3" height="4" fill="#ff0000"/><rect x="992" y="238" width="1" height="33" fill="#00ff00"/><rect x="991" y="240" width="3" height="20" fill="#00ff00"/><rect x="996" y="249" width="1" height="13" fill="#ff0000"/><rect x="995" y="251" width="3" height="9" fill="#ff0000"/><rect x="1000" y="251" width="1" height="14" fill="#ff0000"/><rect x="999" y="254" width="3" height="4" fill="#ff0000"/><rect x="1004" y="251" width="1" height="25" fill="#00ff00"/><rect x="1003" y="253" width="3" height="23" fill="#00ff00"/><rect x="1008" y="263" width="1" height="13" fill="#ff0000"/><rect x="1007" y="265" width="3" height="11" fill="#ff0000"/><rect x="1012" y="263" width="1" height="22" fill="#00ff00"/><rect x="1011" y="266" width="3" height="16" fill="#00ff00"/><rect x="1016" y="261" width="1" height="29" fill="#ff0000"/><rect x="1015" y="264" width="3" height="18" fill="#ff0000"/><rect x="1020" y="258" width="1" height="9" fill="#ff0000"/><rect x="1019" y="259" width="3" height="7" fill="#ff0000"/><rect x="1024" y="259" width="1" height="14" fill="#ff0000"/><rect x="1023" y="261" width="3" height="5" fill="#ff0000"/><rect x="1028" y="258" width="1" height="17" fill="#00ff00"/><rect x="1027" y="261" width="3" height="11" fill="#00ff00"/><rect x="1032" y="268" width="1" height="10" fill="#00ff00"/><rect x="1031" y="270" width="3" height="7" fill="#00ff00"/><rect x="1036" y="266" width="1" height="11" fill="#ff0000"/><rect x="1035" y="267" width="3" height="9" fill="#ff0000"/><rect x="1040" y="264" width="1" height="40" fill="#00ff00"/><rect x="1039" y="266" width="3" height="29" fill="#00ff00"/><rect x="1044" y="293" width="1" height="16" fill="#00ff00"/><rect x="1043" y="294" width="3" height="14" fill="#00ff00"/><rect x="1048" y="301" width="1" height="31" fill="#00ff00"/><rect x="1047" y="301" width="3" height="30" fill="#00ff00"/><rect x="1052" y="324" width="1" height="27" fill="#00ff00"/><rect x="1051" y="326" width="3" height="6" fill="#00ff00"/><rect x="1056" y="330" width="1" height="12" fill="#00ff00"/><rect x="1055" y="332" width="3" height="4" fill="#00ff00"/><rect x="1060" y="316" width="1" height="30" fill="#ff0000"/><rect x="1059" y="327" width="3" height="14" fill="#ff0000"/><rect x="1064" y="301" width="1" height="29" fill="#ff0000"/><rect x="1063" y="319" width="3" height="9" fill="#ff0000"/><rect x="1068" y="311" width="1" height="12" fill="#ff0000"/><rect x="1067" y="312" width="3" height="10" fill="#ff0000"/><rect x="1072" y="314" width="1" height="19" fill="#00ff00"/><rect x="1071" y="321" width="3" height="10" fill="#00ff00"/><rect x="1076" y="308" width="1" height="29" fill="#ff0000"/><rect x="1075" y="313" width="3" height="18" fill="#ff0000"/><rect x="1080" y="311" width="1" height="30" fill="#00ff00"/><rect x="1079" y="312" width="3" height="7" fill="#00ff00"/><rect x="1084" y="299" width="1" height="24" fill="#ff0000"/><rect x="1083" y="308" width="3" height="14" fill="#ff0000"/><rect x="1088" y="292" width="1" height="21" fill="#ff0000"/><rect x="1087" y="306" width="3" height="3" fill="#ff0000"/><rect x="1092" y="305" width="1" height="8" fill="#00ff00"/><rect x="1091" y="306" width="3" height="6" fill="#00ff00"/><rect x="1096" y="305" width="1" height="20" fill="#00ff00"/><rect x="1095" y="308" width="3" height="7" fill="#00ff00"/><rect x="1100" y="313" width="1" height="27" fill="#00ff00"/><rect x="1099" y="316" width="3" height="16" fill="#00ff00"/><rect x="1104" y="330" width="1" height="26" fill="#00ff00"/><rect x="1103" y="331" width="3" height="18" fill="#00ff00"/><rect x="1108" y="347" width="1" height="21" fill="#00ff00"/><rect x="1107" y="348" width="3" height="6" fill="#00ff00"/><rect x="1112" y="325" width="1" height="29" fill="#ff0000"/><rect x="1111" y="334" width="3" height="20" fill="#ff0000"/><rect x="1116" y="333" width="1" height="4" fill="#00ff00"/><rect x="1115" y="334" width="3" height="1" fill="#00ff00"/><rect x="1120" y="324" width="1" height="13" fill="#ff0000"/><rect x="1119" y="326" width="3" height="10" fill="#ff0000"/><rect x="1124" y="326" width="1" height="18" fill="#00ff00"/><rect x="1123" y="326" width="3" height="10" fill="#00ff00"/><rect x="1128" y="308" width="1" height="29" fill="#ff0000"/><rect x="1127" y="322" width="3" height="13" fill="#ff0000"/><rect x="1132" y="322" width="1" height="18" fill="#00ff00"/><rect x="1131" y="322" width="3" height="5" fill="#00ff00"/><rect x="1136" y="314" width="1" height="16" fill="#ff0000"/><rect x="1135" y="319" width="3" height="7" fill="#ff0000"/><rect x="1140" y="314" width="1" height="9" fill="#00ff00"/><rect x="1139" y="318" width="3" height="3" fill="#00ff00"/><rect x="1144" y="313" width="1" height="19" fill="#00ff00"/><rect x="1143" y="322" width="3" height="4" fill="#00ff00"/><rect x="1148" y="302" width="1" height="33" fill="#ff0000"/><rect x="1147" y="304" width="3" height="26" fill="#ff0000"/><rect x="1152" y="289" width="1" height="23" fill="#ff0000"/><rect x="1151" y="298" width="3" height="8" fill="#ff0000"/><rect x="1156" y="296" width="1" height="39" fill="#00ff00"/><rect x="1155" y="298" width="3" height="34" fill="#00ff00"/><rect x="1160" y="316" width="1" height="37" fill="#00ff00"/><rect x="1159" y="332" width="3" height="20" fill="#00ff00"/><rect x="1164" y="349" width="1" height="10" fill="#00ff00"/><rect x="1163" y="350" width="3" height="8" fill="#00ff00"/><rect x="1168" y="337" width="1" height="23" fill="#ff0000"/><rect x="1167" y="343" width="3" height="16" fill="#ff0000"/><rect x="1172" y="323" width="1" height="27" fill="#ff0000"/><rect x="1171" y="324" width="3" height="17" fill="#ff0000"/><rect x="1176" y="299" width="1" height="38" fill="#ff0000"/><rect x="1175" y="307" width="3" height="19" fill="#ff0000"/><rect x="1180" y="295" width="1" height="18" fill="#ff0000"/><rect x="1179" y="298" width="3" height="11" fill="#ff0000"/><rect x="1184" y="289" width="1" height="15" fill="#ff0000"/><rect x="1183" y="291" width="3" height="9" fill="#ff0000"/><rect x="1188" y="282" width="1" height="11" fill="#ff0000"/><rect x="1187" y="286" width="3" height="7" fill="#ff0000"/><rect x="1192" y="281" width="1" height="11" fill="#ff0000"/><rect x="1191" y="288" width="3" height="4" fill="#ff0000"/><rect x="1196" y="278" width="1" height="12" fill="#ff0000"/><rect x="1195" y="288" width="3" height="1" fill="#ff0000"/><rect x="1200" y="287" width="1" height="17" fill="#00ff00"/><rect x="1199" y="288" width="3" height="3" fill="#00ff00"/><rect x="1204" y="275" width="1" height="19" fill="#ff0000"/><rect x="1203" y="281" width="3" height="11" fill="#ff0000"/><rect x="1208" y="264" width="1" height="20" fill="#ff0000"/><rect x="1207" y="266" width="3" height="16" fill="#ff0000"/><rect x="1212" y="262" width="1" height="9" fill="#ff0000"/><rect x="1211" y="264" width="3" height="4" fill="#ff0000"/><rect x="1216" y="261" width="1" height="7" fill="#ff0000"/><rect x="1215" y="264" width="3" height="3" fill="#ff0000"/><rect x="1220" y="253" width="1" height="23" fill="#00ff00"/><rect x="1219" y="264" width="3" height="3" fill="#00ff00"/><rect x="1224" y="251" width="1" height="20" fill="#ff0000"/><rect x="1223" y="256" width="3" height="9" fill="#ff0000"/><rect x="1228" y="249" width="1" height="18" fill="#00ff00"/><rect x="1227" y="256" width="3" height="6" fill="#00ff00"/><rect x="1232" y="251" width="1" height="38" fill="#00ff00"/><rect x="1231" y="260" width="3" height="22" fill="#00ff00"/><rect x="1236" y="280" width="1" height="6" fill="#00ff00"/><rect x="1235" y="281" width="3" height="4" fill="#00ff00"/><rect x="1240" y="265" width="1" height="28" fill="#00ff00"/><rect x="1239" y="276" width="3" height="9" fill="#00ff00"/><rect x="1244" y="270" width="1" height="26" fill="#00ff00"/><rect x="1243" y="284" width="3" height="7" fill="#00ff00"/><rect x="1248" y="283" width="1" height="26" fill="#ff0000"/><rect x="1247" y="286" width="3" height="5" fill="#ff0000"/><rect x="1252" y="284" width="1" height="52" fill="#00ff00"/><rect x="1251" y="286" width="3" height="37" fill="#00ff00"/><rect x="1256" y="309" width="1" height="60" fill="#00ff00"/><rect x="1255" y="322" width="3" height="10" fill="#00ff00"/><rect x="1260" y="327" width="1" height="22" fill="#00ff00"/><rect x="1259" y="331" width="3" height="16" fill="#00ff00"/><rect x="1264" y="345" width="1" height="56" fill="#00ff00"/><rect x="1263" y="355" width="3" height="20" fill="#00ff00"/><rect x="1268" y="369" width="1" height="46" fill="#00ff00"/><rect x="1267" y="374" width="3" height="21" fill="#00ff00"/><rect x="1272" y="374" width="1" height="34" fill="#00ff00"/><rect x="1271" y="395" width="3" height="1" fill="#00ff00"/><rect x="1276" y="390" width="1" height="31" fill="#00ff00"/><rect x="1275" y="395" width="3" height="26" fill="#00ff00"/><rect x="1280" y="418" width="1" height="97" fill="#00ff00"/><rect x="1279" y="420" width="3" height="65" fill="#00ff00"/><rect x="1284" y="478" width="1" height="21" fill="#00ff00"/><rect x="1283" y="484" width="3" height="6" fill="#00ff00"/><rect x="1288" y="512" width="1" height="69" fill="#ff0000"/><rect x="1287" y="523" width="3" height="10" fill="#ff0000"/><rect x="1292" y="485" width="1" height="74" fill="#ff0000"/><rect x="1291" y="507" width="3" height="18" fill="#ff0000"/><rect x="1296" y="466" width="1" height="45" fill="#ff0000"/><rect x="1295" y="481" width="3" height="28" fill="#ff0000"/><rect x="1300" y="402" width="1" height="111" fill="#ff0000"/><rect x="1299" y="402" width="3" height="81" fill="#ff0000"/><rect x="1304" y="396" width="1" height="67" fill="#00ff00"/><rect x="1303" y="402" width="3" height="42" fill="#00ff00"/><polyline points="4.5,175.7 8.5,174.7 12.5,173.7 16.5,172.5 20.5,170.9 24.5,169.2 28.5,167.2 32.5,165.0 36.5,163.4 40.5,161.4 44.5,159.5 48.5,158.8 52.5,158.2 56.5,157.6 60.5,157.9 64.5,158.7 68.5,159.4 72.5,160.8 76.5,163.1 80.5,165.1 84.5,166.7 88.5,168.6 92.5,170.2 96.5,171.2 100.5,172.1 104.5,172.9 108.5,173.6 112.5,174.0 116.5,174.0 120.5,174.3 124.5,173.6 128.5,173.1 132.5,173.0 136.5,173.2 140.5,173.8 144.5,174.2 148.5,175.1 152.5,176.0 156.5,176.8 160.5,177.9 164.5,178.2 168.5,177.3 172.5,175.4 176.5,173.3 180.5,171.3 184.5,168.7 188.5,165.0 192.5,161.5 196.5,156.9 200.5,152.8 204.5,148.8 208.5,144.1 212.5,139.8 216.5,136.7 220.5,132.9 224.5,129.4 228.5,125.8 232.5,122.6 236.5,118.7 240.5,115.2 244.5,113.0 248.5,111.4 252.5,109.3 256.5,108.1 260.5,106.6 264.5,105.4 268.5,104.3 272.5,102.7 276.5,101.4 280.5,100.7 284.5,100.0 288.5,100.2 292.5,102.1 296.5,104.3 300.5,106.4 304.5,108.4 308.5,110.5 312.5,112.5 316.5,114.6 320.5,117.2 324.5,120.2 328.5,123.7 332.5,128.0 336.5,131.6 340.5,136.5 344.5,141.5 348.5,146.5 352.5,151.2 356.5,156.0 360.5,160.0 364.5,162.9 368.5,164.9 372.5,167.2 376.5,168.5 380.5,170.1 384.5,172.3 388.5,176.9 392.5,182.2 396.5,187.9 400.5,193.9 404.5,200.2 408.5,205.6 412.5,210.2 416.5,214.5 420.5,218.8 424.5,221.7 428.5,225.6 432.5,228.9 436.5,232.6 440.5,234.4 444.5,235.9 448.5,236.8 452.5,237.0 456.5,237.4 460.5,237.5 464.5,238.0 468.5,238.4 472.5,239.3 476.5,239.8 480.5,241.0 484.5,242.5 488.5,245.3 492.5,248.0 496.5,250.8 500.5,253.2 504.5,255.0 508.5,253.7 512.5,251.2 516.5,248.3 520.5,245.0 524.5,242.1 528.5,239.8 532.5,237.0 536.5,235.9 540.5,234.8 544.5,237.2 548.5,238.4 552.5,241.0 556.5,242.7 560.5,246.2 564.5,249.5 568.5,253.5 572.5,256.6 576.5,259.1 580.5,261.1 584.5,261.9 588.5,262.9 592.5,263.6 596.5,265.2 600.5,266.2 604.5,266.7 608.5,268.0 612.5,269.4 616.5,269.9 620.5,270.4 624.5,271.2 628.5,272.0 632.5,272.6 636.5,273.2 640.5,273.4 644.5,273.8 648.5,275.2 652.5,276.4 656.5,275.5 660.5,274.6 664.5,271.4 668.5,269.3 672.5,265.6 676.5,263.3 680.5,260.1 684.5,257.1 688.5,253.4 692.5,250.3 696.5,246.8 700.5,244.0 704.5,241.9 708.5,239.6 712.5,238.2 716.5,236.8 720.5,235.3 724.5,233.8 728.5,230.9 732.5,228.2 736.5,224.9 740.5,222.9 744.5,220.1 748.5,218.1 752.5,217.1 756.5,216.4 760.5,215.7 764.5,214.6 768.5,212.5 772.5,211.0 776.5,209.4 780.5,207.8 784.5,206.9 788.5,205.7 792.5,205.3 796.5,205.7 800.5,206.4 804.5,207.3 808.5,208.2 812.5,208.8 816.5,209.5 820.5,209.6 824.5,209.4 828.5,208.9 832.5,207.7 836.5,206.6 840.5,206.7 844.5,207.7 848.5,208.7 852.5,209.6 856.5,211.4 860.5,211.7 864.5,212.5 868.5,212.9 872.5,212.8 876.5,212.3 880.5,212.4 884.5,212.4 888.5,213.3 892.5,214.5 896.5,215.7 900.5,217.0 904.5,218.5 908.5,219.9 912.5,220.5 916.5,219.8 920.5,218.1 924.5,216.0 928.5,214.3 932.5,212.7 936.5,211.3 940.5,210.3 944.5,209.4 948.5,208.6 952.5,209.1 956.5,210.4 960.5,210.7 964.5,210.5 968.5,209.6 972.5,208.9 976.5,208.5 980.5,209.5 984.5,210.6 988.5,211.9 992.5,214.2 996.5,216.4 1000.5,218.1 1004.5,220.5 1008.5,221.8 1012.5,223.4 1016.5,224.7 1020.5,225.8 1024.5,226.7 1028.5,228.3 1032.5,230.4 1036.5,232.1 1040.5,235.4 1044.5,239.4 1048.5,244.2 1052.5,249.2 1056.5,254.4 1060.5,259.3 1064.5,264.0 1068.5,268.6 1072.5,272.7 1076.5,275.1 1080.5,278.0 1084.5,280.5 1088.5,283.4 1092.5,286.4 1096.5,289.2 1100.5,292.1 1104.5,295.7 1108.5,299.4 1112.5,302.0 1116.5,304.8 1120.5,307.2 1124.5,309.1 1128.5,311.1 1132.5,312.6 1136.5,314.4 1140.5,316.5 1144.5,318.6 1148.5,319.7 1152.5,320.4 1156.5,322.5 1160.5,324.4 1164.5,326.1 1168.5,326.5 1172.5,326.3 1176.5,325.4 1180.5,324.4 1184.5,323.5 1188.5,322.6 1192.5,321.2 1196.5,320.4 1200.5,319.5 1204.5,318.5 1208.5,317.2 1212.5,315.6 1216.5,314.0 1220.5,311.8 1224.5,308.7 1228.5,305.7 1232.5,303.9 1236.5,302.2 1240.5,300.8 1244.5,299.3 1248.5,298.1 1252.5,298.0 1256.5,298.4 1260.5,299.2 1264.5,300.9 1268.5,303.9 1272.5,307.1 1276.5,310.1 1280.5,314.5 1284.5,318.9 1288.5,325.0 1292.5,331.1 1296.5,336.9 1300.5,340.3 1304.5,345.4" fill="none" stroke="#0000cd" stroke-width="1" /><polyline points="4.5,164.6 8.5,167.1 12.5,169.5 16.5,171.7 20.5,172.0 24.5,171.6 28.5,170.0 32.5,167.6 36.5,165.2 40.5,161.8 44.5,158.8 48.5,157.4 52.5,155.6 56.5,154.4 60.5,152.2 64.5,151.5 68.5,151.4 72.5,152.4 76.5,156.4 80.5,160.1 84.5,165.0 88.5,170.5 92.5,175.1 96.5,180.8 100.5,185.5 104.5,188.5 108.5,191.4 112.5,192.7 116.5,194.0 120.5,195.0 124.5,194.9 128.5,193.6 132.5,190.8 136.5,189.0 140.5,187.1 144.5,183.5 148.5,180.4 152.5,178.0 156.5,175.3 160.5,172.6 164.5,168.6 168.5,164.6 172.5,158.6 176.5,152.2 180.5,147.2 184.5,142.1 188.5,134.3 192.5,127.5 196.5,120.3 200.5,114.3 204.5,108.6 208.5,102.0 212.5,96.0 216.5,92.5 220.5,88.5 224.5,85.7 228.5,85.0 232.5,84.0 236.5,81.4 240.5,80.4 244.5,83.4 248.5,86.1 252.5,88.7 256.5,93.2 260.5,96.8 264.5,100.7 268.5,104.2 272.5,105.2 276.5,107.7 280.5,111.1 284.5,113.4 288.5,116.7 292.5,123.0 296.5,128.8 300.5,133.2 304.5,135.6 308.5,137.0 312.5,136.9 316.5,137.3 320.5,139.5 324.5,142.9 328.5,147.0 332.5,153.0 336.5,158.8 340.5,166.7 344.5,174.2 348.5,180.2 352.5,184.5 356.5,187.6 360.5,191.0 364.5,195.7 368.5,198.4 372.5,201.4 376.5,203.2 380.5,203.5 384.5,204.8 388.5,209.0 392.5,213.6 396.5,217.8 400.5,223.5 404.5,228.5 408.5,233.4 412.5,239.1 416.5,245.8 420.5,252.9 424.5,257.4 428.5,262.1 432.5,266.3 436.5,271.5 440.5,272.6 444.5,269.2 448.5,263.9 452.5,258.2 456.5,252.0 460.5,246.5 464.5,243.5 468.5,240.8 472.5,237.5 476.5,232.6 480.5,232.2 484.5,231.9 488.5,233.4 492.5,234.3 496.5,238.4 500.5,240.7 504.5,243.7 508.5,244.8 512.5,243.2 516.5,241.1 520.5,238.6 524.5,236.5 528.5,234.6 532.5,232.9 536.5,235.0 540.5,236.4 544.5,240.0 548.5,241.6 552.5,245.3 556.5,248.8 560.5,253.9 564.5,260.2 568.5,268.8 572.5,275.8 576.5,282.2 580.5,287.2 584.5,290.8 588.5,296.4 592.5,296.7 596.5,297.9 600.5,294.4 604.5,292.5 608.5,291.2 612.5,291.6 616.5,289.0 620.5,285.7 624.5,281.7 628.5,277.8 632.5,272.0 636.5,266.9 640.5,263.2 644.5,259.8 648.5,259.6 652.5,256.8 656.5,254.9 660.5,253.3 664.5,247.4 668.5,241.5 672.5,236.1 676.5,233.4 680.5,230.1 684.5,228.3 688.5,227.6 692.5,226.9 696.5,225.2 700.5,223.3 704.5,219.3 708.5,217.6 712.5,216.9 716.5,217.0 720.5,217.0 724.5,216.3 728.5,217.0 732.5,216.4 736.5,213.5 740.5,212.5 744.5,210.4 748.5,208.8 752.5,208.4 756.5,207.7 760.5,207.0 764.5,206.2 768.5,204.3 772.5,201.6 776.5,199.5 780.5,197.8 784.5,195.9 788.5,193.4 792.5,194.1 796.5,196.5 800.5,200.9 804.5,205.2 808.5,208.5 812.5,210.6 816.5,212.1 820.5,212.6 824.5,212.6 828.5,212.9 832.5,213.2 836.5,214.4 840.5,216.6 844.5,220.6 848.5,224.3 852.5,224.7 856.5,224.2 860.5,221.9 864.5,219.6 868.5,217.5 872.5,215.3 876.5,213.5 880.5,213.6 884.5,213.8 888.5,216.2 892.5,218.3 896.5,218.8 900.5,217.6 904.5,216.9 908.5,215.5 912.5,213.5 916.5,213.8 920.5,212.8 924.5,211.8 928.5,211.7 932.5,211.4 936.5,209.6 940.5,208.0 944.5,204.4 948.5,200.2 952.5,199.0 956.5,200.2 960.5,199.8 964.5,200.5 968.5,201.0 972.5,201.3 976.5,203.7 980.5,207.9 984.5,211.7 988.5,215.9 992.5,221.7 996.5,226.7 1000.5,232.2 1004.5,239.5 1008.5,243.5 1012.5,246.3 1016.5,248.7 1020.5,250.5 1024.5,253.7 1028.5,257.1 1032.5,260.6 1036.5,262.2 1040.5,265.9 1044.5,270.8 1048.5,275.8 1052.5,281.5 1056.5,287.3 1060.5,291.0 1064.5,294.9 1068.5,297.1 1072.5,301.8 1076.5,305.7 1080.5,309.7 1084.5,312.3 1088.5,314.5 1092.5,317.6 1096.5,319.1 1100.5,320.8 1104.5,322.1 1108.5,323.7 1112.5,323.6 1116.5,324.2 1120.5,324.6 1124.5,326.3 1128.5,325.8 1132.5,326.7 1136.5,326.8 1140.5,327.6 1144.5,329.0 1148.5,328.5 1152.5,327.3 1156.5,327.3 1160.5,327.6 1164.5,327.9 1168.5,328.5 1172.5,327.7 1176.5,326.4 1180.5,323.8 1184.5,321.5 1188.5,318.7 1192.5,316.4 1196.5,314.1 1200.5,311.6 1204.5,309.9 1208.5,307.6 1212.5,302.9 1216.5,296.6 1220.5,290.2 1224.5,283.9 1228.5,279.4 1232.5,277.6 1236.5,276.6 1240.5,276.0 1244.5,276.3 1248.5,276.2 1252.5,278.7 1256.5,281.6 1260.5,286.2 1264.5,294.0 1268.5,303.3 1272.5,312.7 1276.5,323.7 1280.5,340.0 1284.5,356.4 1288.5,373.7 1292.5,389.6 1296.5,403.6 1300.5,411.6 1304.5,422.8" fill="none" stroke="#ff0000" stroke-width="1" /><polyline points="4.5,179.6 8.5,181.1 12.5,182.5 16.5,180.9 20.5,176.4 24.5,168.2 28.5,158.1 32.5,150.1 36.5,143.1 40.5,135.9 44.5,131.9 48.5,135.6 52.5,139.2 56.5,144.0 60.5,152.6 64.5,160.8 68.5,165.6 72.5,172.0 76.5,182.1 80.5,190.3 84.5,195.7 88.5,203.7 92.5,206.8 96.5,204.2 100.5,203.0 104.5,201.3 108.5,197.5 112.5,193.1 116.5,189.5 120.5,187.5 124.5,183.7 128.5,178.3 132.5,177.0 136.5,176.2 140.5,173.5 144.5,171.7 148.5,169.8 152.5,168.2 156.5,164.7 160.5,160.7 164.5,155.9 168.5,149.0 172.5,135.3 176.5,123.0 180.5,112.7 184.5,103.9 188.5,91.9 192.5,88.9 196.5,84.2 200.5,79.4 204.5,76.1 208.5,77.9 212.5,76.4 216.5,82.7 220.5,83.7 224.5,84.8 228.5,87.8 232.5,89.6 236.5,81.7 240.5,81.2 244.5,85.5 248.5,91.8 252.5,97.2 256.5,112.4 260.5,122.1 264.5,126.3 268.5,127.1 272.5,128.9 276.5,124.3 280.5,124.8 284.5,123.5 288.5,124.7 292.5,131.5 296.5,140.5 300.5,147.4 304.5,154.0 308.5,154.0 312.5,151.4 316.5,145.9 320.5,143.9 324.5,147.4 328.5,156.8 332.5,169.4 336.5,185.0 340.5,199.6 344.5,212.3 348.5,224.7 352.5,228.6 356.5,227.9 360.5,222.0 364.5,214.2 368.5,202.3 372.5,193.3 376.5,187.6 380.5,182.6 384.5,182.3 388.5,199.0 392.5,219.2 396.5,240.5 400.5,268.1 404.5,291.1 408.5,297.0 412.5,299.2 416.5,300.3 420.5,296.7 424.5,283.2 428.5,273.6 432.5,263.9 436.5,254.5 440.5,237.5 444.5,232.2 448.5,224.1 452.5,217.7 456.5,213.8 460.5,217.9 464.5,225.0 468.5,234.5 472.5,242.6 476.5,242.4 480.5,243.0 484.5,241.2 488.5,243.3 492.5,245.5 496.5,253.6 500.5,256.2 504.5,257.2 508.5,249.4 512.5,238.6 516.5,225.4 520.5,218.9 524.5,214.1 528.5,214.0 532.5,213.7 536.5,226.0 540.5,235.1 544.5,253.3 548.5,265.2 552.5,288.1 556.5,294.9 560.5,306.1 564.5,306.0 568.5,314.6 572.5,311.0 576.5,312.5 580.5,307.4 584.5,299.5 588.5,291.1 592.5,284.5 596.5,279.1 600.5,273.6 604.5,270.2 608.5,273.6 612.5,280.4 616.5,281.3 620.5,281.5 624.5,284.3 628.5,273.5 632.5,257.8 636.5,245.3 640.5,236.4 644.5,229.7 648.5,233.5 652.5,236.5 656.5,240.1 660.5,242.6 664.5,238.9 668.5,229.9 672.5,223.3 676.5,221.3 680.5,219.3 684.5,219.8 688.5,218.7 692.5,219.5 696.5,213.5 700.5,210.7 704.5,208.3 708.5,208.6 712.5,212.1 716.5,219.5 720.5,221.3 724.5,221.6 728.5,221.4 732.5,220.0 736.5,209.7 740.5,207.0 744.5,202.0 748.5,196.5 752.5,191.2 756.5,194.4 760.5,193.0 764.5,197.0 768.5,199.6 772.5,200.3 776.5,198.3 780.5,195.7 784.5,192.6 788.5,189.3 792.5,188.8 796.5,198.7 800.5,210.7 804.5,222.4 808.5,233.6 812.5,240.5 816.5,236.7 820.5,229.8 824.5,220.6 828.5,212.6 832.5,205.6 836.5,202.1 840.5,203.9 844.5,211.7 848.5,220.8 852.5,231.0 856.5,238.2 860.5,237.1 864.5,230.8 868.5,221.4 872.5,210.5 876.5,199.8 880.5,197.5 884.5,196.4 888.5,202.0 892.5,210.6 896.5,218.6 900.5,222.9 904.5,229.5 908.5,229.0 912.5,224.7 916.5,223.1 920.5,217.1 924.5,207.1 928.5,199.8 932.5,193.7 936.5,185.8 940.5,183.0 944.5,181.2 948.5,178.4 952.5,184.0 956.5,196.7 960.5,206.7 964.5,218.1 968.5,226.8 972.5,229.7 976.5,227.0 980.5,229.7 984.5,231.3 988.5,235.6 992.5,242.8 996.5,247.3 1000.5,249.3 1004.5,256.0 1008.5,261.2 1012.5,265.7 1016.5,268.3 1020.5,269.3 1024.5,266.5 1028.5,267.8 1032.5,266.8 1036.5,267.5 1040.5,274.4 1044.5,283.5 1048.5,295.2 1052.5,306.1 1056.5,319.6 1060.5,326.3 1064.5,328.8 1068.5,325.2 1072.5,325.0 1076.5,320.7 1080.5,318.8 1084.5,316.6 1088.5,315.5 1092.5,311.7 1096.5,311.9 1100.5,314.5 1104.5,322.4 1108.5,331.8 1112.5,336.4 1116.5,340.6 1120.5,339.6 1124.5,337.0 1128.5,330.9 1132.5,329.4 1136.5,326.2 1140.5,325.1 1144.5,323.1 1148.5,319.5 1152.5,313.7 1156.5,316.0 1160.5,322.3 1164.5,328.7 1168.5,336.4 1172.5,341.7 1176.5,336.9 1180.5,326.3 1184.5,313.2 1188.5,301.8 1192.5,294.5 1196.5,290.6 1200.5,288.9 1204.5,287.0 1208.5,282.8 1212.5,278.1 1216.5,273.4 1220.5,268.7 1224.5,263.5 1228.5,262.6 1232.5,266.0 1236.5,270.1 1240.5,273.6 1244.5,280.5 1248.5,285.6 1252.5,293.9 1256.5,303.1 1260.5,315.5 1264.5,332.3 1268.5,353.9 1272.5,368.6 1276.5,386.6 1280.5,414.2 1284.5,437.2 1288.5,463.0 1292.5,485.3 1296.5,497.4 1300.5,481.0 1304.5,471.8" fill="none" stroke="#ffa500" stroke-width="1" /></g><rect x="4" y="112" width="1636" height="2" fill="#ff0000"/><rect x="4" y="182" width="1636" height="2" fill="#ff0000"/><rect x="4" y="236" width="1636" height="2" fill="#ff0000"/><rect x="4" y="331" width="1636" height="2" fill="#ff0000"/><rect x="4" y="387" width="1636" height="2" fill="#ff0000"/><rect x="4" y="470" width="1636" height="2" fill="#00ff00"/><rect x="4" y="525" width="1636" height="2" fill="#0000ff"/><rect x="4" y="580" width="1636" height="2" fill="#0000ff"/><rect x="3" y="385" width="6" height="6" fill="#ff0000"/><rect x="5" y="387" width="2" height="2" fill="#ffffff"/><rect x="1634" y="385" width="6" height="6" fill="#ff0000"/><rect x="1636" y="387" width="2" height="2" fill="#ffffff"/><rect x="3" y="468" width="6" height="6" fill="#00ff00"/><rect x="5" y="470" width="2" height="2" fill="#ffffff"/><rect x="1634" y="468" width="6" height="6" fill="#00ff00"/><rect x="1636" y="470" width="2" height="2" fill="#ffffff"/><rect x="3" y="578" width="6" height="6" fill="#0000ff"/><rect x="5" y="580" width="2" height="2" fill="#ffffff"/><rect x="1634" y="578" width="6" height="6" fill="#0000ff"/><rect x="1636" y="580" width="2" height="2" fill="#ffffff"/><path d="M1307 28 L1316 28 L1311.5 33 Z" fill="#c0c0c0" shape-rendering="auto"/><rect x="1642" y="107" width="41" height="11" fill="#ff0000"/><text x="1646" y="116" font-size="9.6" fill="#ffffff" stroke="#ffffff" stroke-width="0.2" textLength="33" lengthAdjust="spacingAndGlyphs">1.01207</text><rect x="1642" y="177" width="41" height="11" fill="#ff0000"/><text x="1646" y="186" font-size="9.6" fill="#ffffff" stroke="#ffffff" stroke-width="0.2" textLength="33" lengthAdjust="spacingAndGlyphs">0.99800</text><rect x="1642" y="231" width="41" height="11" fill="#ff0000"/><text x="1646" y="240" font-size="9.6" fill="#ffffff" stroke="#ffffff" stroke-width="0.2" textLength="33" lengthAdjust="spacingAndGlyphs">0.98703</text><rect x="1642" y="326" width="41" height="11" fill="#ff0000"/><text x="1646" y="335" font-size="9.6" fill="#ffffff" stroke="#ffffff" stroke-width="0.2" textLength="33" lengthAdjust="spacingAndGlyphs">0.96803</text><rect x="1642" y="382" width="41" height="11" fill="#ff0000"/><text x="1646" y="391" font-size="9.6" fill="#ffffff" stroke="#ffffff" stroke-width="0.2" textLength="33" lengthAdjust="spacingAndGlyphs">0.95678</text><rect x="1642" y="465" width="41" height="11" fill="#00ff00"/><text x="1646" y="474" font-size="9.6" fill="#ffffff" stroke="#ffffff" stroke-width="0.2" textLength="33" lengthAdjust="spacingAndGlyphs">0.94016</text><rect x="1642" y="520" width="41" height="11" fill="#0000ff"/><text x="1646" y="529" font-size="9.6" fill="#ffffff" stroke="#ffffff" stroke-width="0.2" textLength="33" lengthAdjust="spacingAndGlyphs">0.92914</text><rect x="1642" y="575" width="41" height="11" fill="#0000ff"/><text x="1646" y="584" font-size="9.6" fill="#ffffff" stroke="#ffffff" stroke-width="0.2" textLength="33" lengthAdjust="spacingAndGlyphs">0.91811</text><rect x="1642" y="438" width="41" height="11" fill="#000000"/><text x="1646" y="447" font-size="9.6" fill="#ffffff" stroke="#ffffff" stroke-width="0.2" textLength="33" lengthAdjust="spacingAndGlyphs">0.94576</text><path d="M7 34 L15 34 L11 38.5 Z" fill="#000" shape-rendering="auto"/><text x="19" y="39" font-size="9.6" fill="#000" stroke="#000" stroke-width="0.15" textLength="64" lengthAdjust="spacingAndGlyphs">USDCHF,Daily</text><text x="90.5" y="39" font-size="9.6" fill="#000" stroke="#000" stroke-width="0.2" textLength="32" lengthAdjust="spacingAndGlyphs">0.95394</text><text x="126" y="39" font-size="9.6" fill="#000" stroke="#000" stroke-width="0.2" textLength="32" lengthAdjust="spacingAndGlyphs">0.95508</text><text x="162.5" y="39" font-size="9.6" fill="#000" stroke="#000" stroke-width="0.2" textLength="32" lengthAdjust="spacingAndGlyphs">0.94209</text><text x="198" y="39" font-size="9.6" fill="#000" stroke="#000" stroke-width="0.2" textLength="32" lengthAdjust="spacingAndGlyphs">0.94576</text><line x1="5" y1="628.5" x2="1640" y2="628.5" stroke="#c0c0c0" stroke-dasharray="3,3"/><line x1="5" y1="669.5" x2="1640" y2="669.5" stroke="#c0c0c0" stroke-dasharray="3,3"/><polyline points="4.5,658.0 8.5,651.9 12.5,648.5 16.5,646.9 20.5,638.8 24.5,637.6 28.5,630.8 32.5,633.2 36.5,634.5 40.5,628.5 44.5,636.1 48.5,644.9 52.5,646.7 56.5,649.9 60.5,649.9 64.5,654.7 68.5,655.0 72.5,659.8 76.5,667.5 80.5,662.8 84.5,661.5 88.5,665.4 92.5,659.4 96.5,657.9 100.5,656.9 104.5,654.3 108.5,655.5 112.5,648.1 116.5,648.5 120.5,651.6 124.5,644.7 128.5,642.7 132.5,645.7 136.5,647.4 140.5,645.7 144.5,641.1 148.5,639.0 152.5,643.0 156.5,640.4 160.5,637.8 164.5,632.4 168.5,627.5 172.5,621.4 176.5,621.8 180.5,624.9 184.5,623.4 188.5,617.5 192.5,627.5 196.5,625.8 200.5,628.4 204.5,628.8 208.5,627.2 212.5,628.2 216.5,643.5 220.5,637.1 224.5,637.8 228.5,638.9 232.5,637.6 236.5,632.4 240.5,639.7 244.5,649.3 248.5,653.2 252.5,650.3 256.5,658.9 260.5,654.9 264.5,654.0 268.5,652.5 272.5,651.2 276.5,650.7 280.5,655.6 284.5,650.7 288.5,653.8 292.5,660.7 296.5,663.2 300.5,664.2 304.5,658.1 308.5,649.4 312.5,652.7 316.5,651.3 320.5,657.5 324.5,660.8 328.5,662.2 332.5,667.9 336.5,669.8 340.5,672.6 344.5,673.3 348.5,673.9 352.5,666.8 356.5,661.6 360.5,657.8 364.5,655.8 368.5,649.9 372.5,649.6 376.5,651.1 380.5,648.6 384.5,654.8 388.5,669.7 392.5,672.1 396.5,673.5 400.5,676.5 404.5,674.6 408.5,668.4 412.5,667.5 416.5,668.4 420.5,668.5 424.5,650.5 428.5,651.3 432.5,650.4 436.5,652.2 440.5,642.4 444.5,643.6 448.5,641.1 452.5,642.7 456.5,648.4 460.5,649.3 464.5,654.5 468.5,654.8 472.5,654.0 476.5,646.8 480.5,649.1 484.5,651.2 488.5,657.2 492.5,656.3 496.5,658.3 500.5,651.1 504.5,650.6 508.5,643.6 512.5,638.8 516.5,637.8 520.5,643.0 524.5,645.2 528.5,645.6 532.5,639.9 536.5,657.0 540.5,656.3 544.5,666.0 548.5,657.5 552.5,663.3 556.5,658.0 560.5,661.2 564.5,660.0 568.5,662.0 572.5,655.9 576.5,656.6 580.5,653.5 584.5,649.0 588.5,651.2 592.5,647.7 596.5,649.9 600.5,646.8 604.5,644.8 608.5,654.9 612.5,655.3 616.5,650.3 620.5,646.5 624.5,647.5 628.5,642.2 632.5,637.9 636.5,637.2 640.5,637.7 644.5,642.2 648.5,649.8 652.5,643.8 656.5,643.6 660.5,642.7 664.5,639.2 668.5,639.7 672.5,636.6 676.5,643.7 680.5,642.7 684.5,641.8 688.5,640.1 692.5,639.1 696.5,636.2 700.5,640.7 704.5,640.2 708.5,643.1 712.5,647.4 716.5,650.3 720.5,644.7 724.5,641.9 728.5,643.9 732.5,645.8 736.5,635.5 740.5,643.3 744.5,638.2 748.5,639.1 752.5,641.2 756.5,643.6 760.5,643.3 764.5,645.6 768.5,644.2 772.5,642.7 776.5,640.4 780.5,639.0 784.5,640.7 788.5,638.9 792.5,644.0 796.5,660.4 800.5,662.1 804.5,662.6 808.5,659.1 812.5,654.0 816.5,650.6 820.5,647.1 824.5,643.6 828.5,643.3 832.5,640.6 836.5,645.2 840.5,652.2 844.5,658.7 848.5,660.4 852.5,659.6 856.5,657.2 860.5,646.9 864.5,644.8 868.5,641.5 872.5,638.6 876.5,637.3 880.5,645.1 884.5,645.1 888.5,654.1 892.5,656.0 896.5,653.2 900.5,652.5 904.5,656.7 908.5,651.5 912.5,646.3 916.5,649.0 920.5,640.9 924.5,638.2 928.5,639.3 932.5,637.0 936.5,636.2 940.5,637.5 944.5,636.1 948.5,635.3 952.5,651.5 956.5,661.5 960.5,657.2 964.5,657.9 968.5,651.8 972.5,653.4 976.5,655.3 980.5,659.9 984.5,658.8 988.5,657.7 992.5,663.5 996.5,659.7 1000.5,660.7 1004.5,666.4 1008.5,661.4 1012.5,665.6 1016.5,658.2 1020.5,656.2 1024.5,657.0 1028.5,659.9 1032.5,661.3 1036.5,657.2 1040.5,664.5 1044.5,667.5 1048.5,671.9 1052.5,672.1 1056.5,672.9 1060.5,669.0 1064.5,665.0 1068.5,661.4 1072.5,666.1 1076.5,658.8 1080.5,660.0 1084.5,656.1 1088.5,655.1 1092.5,656.7 1096.5,657.8 1100.5,663.0 1104.5,667.5 1108.5,668.7 1112.5,659.5 1116.5,659.8 1120.5,655.5 1124.5,658.5 1128.5,653.0 1132.5,654.5 1136.5,651.3 1140.5,651.6 1144.5,653.6 1148.5,644.7 1152.5,642.3 1156.5,654.8 1160.5,660.6 1164.5,662.1 1168.5,656.4 1172.5,649.6 1176.5,644.4 1180.5,642.1 1184.5,640.0 1188.5,638.7 1192.5,639.4 1196.5,639.1 1200.5,640.6 1204.5,637.6 1208.5,633.0 1212.5,632.6 1216.5,632.6 1220.5,634.0 1224.5,630.6 1228.5,633.7 1232.5,644.6 1236.5,646.2 1240.5,645.8 1244.5,649.0 1248.5,647.0 1252.5,661.3 1256.5,663.6 1260.5,667.5 1264.5,673.5 1268.5,676.7 1272.5,676.9 1276.5,680.2 1280.5,686.0 1284.5,686.3 1288.5,688.4 1292.5,681.9 1296.5,672.6 1300.5,652.9 1304.5,659.0" fill="none" stroke="#1e90ff" stroke-width="1"/><text x="8" y="609" font-size="9.6" fill="#000" stroke="#000" stroke-width="0.2" textLength="67.5" lengthAdjust="spacingAndGlyphs">RSI(14) 39.9391</text><rect x="1641" y="598" width="2" height="1" fill="#000"/><rect x="1641" y="699" width="2" height="1" fill="#000"/><text x="1644" y="607" font-size="9.6" fill="#000" stroke="#000" stroke-width="0.2" textLength="15" lengthAdjust="spacingAndGlyphs">100</text><text x="1643" y="632" font-size="9.6" fill="#000" stroke="#000" stroke-width="0.2" textLength="10" lengthAdjust="spacingAndGlyphs">70</text><text x="1643" y="673" font-size="9.6" fill="#000" stroke="#000" stroke-width="0.2" textLength="10" lengthAdjust="spacingAndGlyphs">30</text><text x="1644" y="697" font-size="9.6" fill="#000" stroke="#000" stroke-width="0.2">0</text><g><rect x="4" y="737" width="1" height="3" fill="#c0c0c0"/><rect x="8" y="738" width="1" height="2" fill="#c0c0c0"/><rect x="12" y="738" width="1" height="2" fill="#c0c0c0"/><rect x="16" y="738" width="1" height="2" fill="#c0c0c0"/><rect x="20" y="736" width="1" height="4" fill="#c0c0c0"/><rect x="24" y="735" width="1" height="5" fill="#c0c0c0"/><rect x="28" y="732" width="1" height="8" fill="#c0c0c0"/><rect x="32" y="730" width="1" height="10" fill="#c0c0c0"/><rect x="36" y="729" width="1" height="11" fill="#c0c0c0"/><rect x="40" y="726" width="1" height="14" fill="#c0c0c0"/><rect x="44" y="726" width="1" height="14" fill="#c0c0c0"/><rect x="48" y="727" width="1" height="13" fill="#c0c0c0"/><rect x="52" y="728" width="1" height="12" fill="#c0c0c0"/><rect x="56" y="730" width="1" height="10" fill="#c0c0c0"/><rect x="60" y="732" width="1" height="8" fill="#c0c0c0"/><rect x="64" y="735" width="1" height="5" fill="#c0c0c0"/><rect x="68" y="737" width="1" height="3" fill="#c0c0c0"/><rect x="72" y="739" width="1" height="1" fill="#c0c0c0"/><rect x="76" y="739" width="1" height="5" fill="#c0c0c0"/><rect x="80" y="739" width="1" height="8" fill="#c0c0c0"/><rect x="84" y="739" width="1" height="9" fill="#c0c0c0"/><rect x="88" y="739" width="1" height="12" fill="#c0c0c0"/><rect x="92" y="739" width="1" height="13" fill="#c0c0c0"/><rect x="96" y="739" width="1" height="13" fill="#c0c0c0"/><rect x="100" y="739" width="1" height="13" fill="#c0c0c0"/><rect x="104" y="739" width="1" height="12" fill="#c0c0c0"/><rect x="108" y="739" width="1" height="11" fill="#c0c0c0"/><rect x="112" y="739" width="1" height="10" fill="#c0c0c0"/><rect x="116" y="739" width="1" height="8" fill="#c0c0c0"/><rect x="120" y="739" width="1" height="7" fill="#c0c0c0"/><rect x="124" y="739" width="1" height="6" fill="#c0c0c0"/><rect x="128" y="739" width="1" height="4" fill="#c0c0c0"/><rect x="132" y="739" width="1" height="2" fill="#c0c0c0"/><rect x="136" y="739" width="1" height="2" fill="#c0c0c0"/><rect x="140" y="739" width="1" height="1" fill="#c0c0c0"/><rect x="144" y="739" width="1" height="1" fill="#c0c0c0"/><rect x="148" y="737" width="1" height="3" fill="#c0c0c0"/><rect x="152" y="736" width="1" height="4" fill="#c0c0c0"/><rect x="156" y="735" width="1" height="5" fill="#c0c0c0"/><rect x="160" y="734" width="1" height="6" fill="#c0c0c0"/><rect x="164" y="732" width="1" height="8" fill="#c0c0c0"/><rect x="168" y="729" width="1" height="11" fill="#c0c0c0"/><rect x="172" y="724" width="1" height="16" fill="#c0c0c0"/><rect x="176" y="721" width="1" height="19" fill="#c0c0c0"/><rect x="180" y="719" width="1" height="21" fill="#c0c0c0"/><rect x="184" y="717" width="1" height="23" fill="#c0c0c0"/><rect x="188" y="712" width="1" height="28" fill="#c0c0c0"/><rect x="192" y="711" width="1" height="29" fill="#c0c0c0"/><rect x="196" y="710" width="1" height="30" fill="#c0c0c0"/><rect x="200" y="709" width="1" height="31" fill="#c0c0c0"/><rect x="204" y="709" width="1" height="31" fill="#c0c0c0"/><rect x="208" y="709" width="1" height="31" fill="#c0c0c0"/><rect x="212" y="710" width="1" height="30" fill="#c0c0c0"/><rect x="216" y="713" width="1" height="27" fill="#c0c0c0"/><rect x="220" y="714" width="1" height="26" fill="#c0c0c0"/><rect x="224" y="715" width="1" height="25" fill="#c0c0c0"/><rect x="228" y="717" width="1" height="23" fill="#c0c0c0"/><rect x="232" y="718" width="1" height="22" fill="#c0c0c0"/><rect x="236" y="717" width="1" height="23" fill="#c0c0c0"/><rect x="240" y="718" width="1" height="22" fill="#c0c0c0"/><rect x="244" y="722" width="1" height="18" fill="#c0c0c0"/><rect x="248" y="726" width="1" height="14" fill="#c0c0c0"/><rect x="252" y="729" width="1" height="11" fill="#c0c0c0"/><rect x="256" y="734" width="1" height="6" fill="#c0c0c0"/><rect x="260" y="736" width="1" height="4" fill="#c0c0c0"/><rect x="264" y="739" width="1" height="1" fill="#c0c0c0"/><rect x="268" y="739" width="1" height="1" fill="#c0c0c0"/><rect x="272" y="739" width="1" height="1" fill="#c0c0c0"/><rect x="276" y="739" width="1" height="2" fill="#c0c0c0"/><rect x="280" y="739" width="1" height="3" fill="#c0c0c0"/><rect x="284" y="739" width="1" height="4" fill="#c0c0c0"/><rect x="288" y="739" width="1" height="4" fill="#c0c0c0"/><rect x="292" y="739" width="1" height="7" fill="#c0c0c0"/><rect x="296" y="739" width="1" height="10" fill="#c0c0c0"/><rect x="300" y="739" width="1" height="13" fill="#c0c0c0"/><rect x="304" y="739" width="1" height="14" fill="#c0c0c0"/><rect x="308" y="739" width="1" height="12" fill="#c0c0c0"/><rect x="312" y="739" width="1" height="11" fill="#c0c0c0"/><rect x="316" y="739" width="1" height="10" fill="#c0c0c0"/><rect x="320" y="739" width="1" height="11" fill="#c0c0c0"/><rect x="324" y="739" width="1" height="13" fill="#c0c0c0"/><rect x="328" y="739" width="1" height="15" fill="#c0c0c0"/><rect x="332" y="739" width="1" height="19" fill="#c0c0c0"/><rect x="336" y="739" width="1" height="23" fill="#c0c0c0"/><rect x="340" y="739" width="1" height="27" fill="#c0c0c0"/><rect x="344" y="739" width="1" height="30" fill="#c0c0c0"/><rect x="348" y="739" width="1" height="33" fill="#c0c0c0"/><rect x="352" y="739" width="1" height="33" fill="#c0c0c0"/><rect x="356" y="739" width="1" height="32" fill="#c0c0c0"/><rect x="360" y="739" width="1" height="29" fill="#c0c0c0"/><rect x="364" y="739" width="1" height="27" fill="#c0c0c0"/><rect x="368" y="739" width="1" height="23" fill="#c0c0c0"/><rect x="372" y="739" width="1" height="20" fill="#c0c0c0"/><rect x="376" y="739" width="1" height="17" fill="#c0c0c0"/><rect x="380" y="739" width="1" height="15" fill="#c0c0c0"/><rect x="384" y="739" width="1" height="14" fill="#c0c0c0"/><rect x="388" y="739" width="1" height="20" fill="#c0c0c0"/><rect x="392" y="739" width="1" height="25" fill="#c0c0c0"/><rect x="396" y="739" width="1" height="30" fill="#c0c0c0"/><rect x="400" y="739" width="1" height="36" fill="#c0c0c0"/><rect x="404" y="739" width="1" height="40" fill="#c0c0c0"/><rect x="408" y="739" width="1" height="41" fill="#c0c0c0"/><rect x="412" y="739" width="1" height="41" fill="#c0c0c0"/><rect x="416" y="739" width="1" height="41" fill="#c0c0c0"/><rect x="420" y="739" width="1" height="41" fill="#c0c0c0"/><rect x="424" y="739" width="1" height="35" fill="#c0c0c0"/><rect x="428" y="739" width="1" height="30" fill="#c0c0c0"/><rect x="432" y="739" width="1" height="26" fill="#c0c0c0"/><rect x="436" y="739" width="1" height="23" fill="#c0c0c0"/><rect x="440" y="739" width="1" height="17" fill="#c0c0c0"/><rect x="444" y="739" width="1" height="13" fill="#c0c0c0"/><rect x="448" y="739" width="1" height="8" fill="#c0c0c0"/><rect x="452" y="739" width="1" height="5" fill="#c0c0c0"/><rect x="456" y="739" width="1" height="4" fill="#c0c0c0"/><rect x="460" y="739" width="1" height="4" fill="#c0c0c0"/><rect x="464" y="739" width="1" height="5" fill="#c0c0c0"/><rect x="468" y="739" width="1" height="6" fill="#c0c0c0"/><rect x="472" y="739" width="1" height="7" fill="#c0c0c0"/><rect x="476" y="739" width="1" height="5" fill="#c0c0c0"/><rect x="480" y="739" width="1" height="4" fill="#c0c0c0"/><rect x="484" y="739" width="1" height="4" fill="#c0c0c0"/><rect x="488" y="739" width="1" height="6" fill="#c0c0c0"/><rect x="492" y="739" width="1" height="8" fill="#c0c0c0"/><rect x="496" y="739" width="1" height="9" fill="#c0c0c0"/><rect x="500" y="739" width="1" height="9" fill="#c0c0c0"/><rect x="504" y="739" width="1" height="8" fill="#c0c0c0"/><rect x="508" y="739" width="1" height="5" fill="#c0c0c0"/><rect x="512" y="739" width="1" height="1" fill="#c0c0c0"/><rect x="516" y="737" width="1" height="3" fill="#c0c0c0"/><rect x="520" y="735" width="1" height="5" fill="#c0c0c0"/><rect x="524" y="735" width="1" height="5" fill="#c0c0c0"/><rect x="528" y="735" width="1" height="5" fill="#c0c0c0"/><rect x="532" y="733" width="1" height="7" fill="#c0c0c0"/><rect x="536" y="737" width="1" height="3" fill="#c0c0c0"/><rect x="540" y="739" width="1" height="1" fill="#c0c0c0"/><rect x="544" y="739" width="1" height="8" fill="#c0c0c0"/><rect x="548" y="739" width="1" height="11" fill="#c0c0c0"/><rect x="552" y="739" width="1" height="16" fill="#c0c0c0"/><rect x="556" y="739" width="1" height="18" fill="#c0c0c0"/><rect x="560" y="739" width="1" height="21" fill="#c0c0c0"/><rect x="564" y="739" width="1" height="23" fill="#c0c0c0"/><rect x="568" y="739" width="1" height="25" fill="#c0c0c0"/><rect x="572" y="739" width="1" height="25" fill="#c0c0c0"/><rect x="576" y="739" width="1" height="24" fill="#c0c0c0"/><rect x="580" y="739" width="1" height="22" fill="#c0c0c0"/><rect x="584" y="739" width="1" height="19" fill="#c0c0c0"/><rect x="588" y="739" width="1" height="17" fill="#c0c0c0"/><rect x="592" y="739" width="1" height="14" fill="#c0c0c0"/><rect x="596" y="739" width="1" height="12" fill="#c0c0c0"/><rect x="600" y="739" width="1" height="10" fill="#c0c0c0"/><rect x="604" y="739" width="1" height="7" fill="#c0c0c0"/><rect x="608" y="739" width="1" height="8" fill="#c0c0c0"/><rect x="612" y="739" width="1" height="10" fill="#c0c0c0"/><rect x="616" y="739" width="1" height="9" fill="#c0c0c0"/><rect x="620" y="739" width="1" height="7" fill="#c0c0c0"/><rect x="624" y="739" width="1" height="5" fill="#c0c0c0"/><rect x="628" y="739" width="1" height="2" fill="#c0c0c0"/><rect x="632" y="736" width="1" height="4" fill="#c0c0c0"/><rect x="636" y="732" width="1" height="8" fill="#c0c0c0"/><rect x="640" y="729" width="1" height="11" fill="#c0c0c0"/><rect x="644" y="728" width="1" height="12" fill="#c0c0c0"/><rect x="648" y="731" width="1" height="9" fill="#c0c0c0"/><rect x="652" y="730" width="1" height="10" fill="#c0c0c0"/><rect x="656" y="729" width="1" height="11" fill="#c0c0c0"/><rect x="660" y="729" width="1" height="11" fill="#c0c0c0"/><rect x="664" y="727" width="1" height="13" fill="#c0c0c0"/><rect x="668" y="726" width="1" height="14" fill="#c0c0c0"/><rect x="672" y="724" width="1" height="16" fill="#c0c0c0"/><rect x="676" y="725" width="1" height="15" fill="#c0c0c0"/><rect x="680" y="725" width="1" height="15" fill="#c0c0c0"/><rect x="684" y="725" width="1" height="15" fill="#c0c0c0"/><rect x="688" y="725" width="1" height="15" fill="#c0c0c0"/><rect x="692" y="724" width="1" height="16" fill="#c0c0c0"/><rect x="696" y="723" width="1" height="17" fill="#c0c0c0"/><rect x="700" y="723" width="1" height="17" fill="#c0c0c0"/><rect x="704" y="723" width="1" height="17" fill="#c0c0c0"/><rect x="708" y="724" width="1" height="16" fill="#c0c0c0"/><rect x="712" y="726" width="1" height="14" fill="#c0c0c0"/><rect x="716" y="729" width="1" height="11" fill="#c0c0c0"/><rect x="720" y="730" width="1" height="10" fill="#c0c0c0"/><rect x="724" y="729" width="1" height="11" fill="#c0c0c0"/><rect x="728" y="730" width="1" height="10" fill="#c0c0c0"/><rect x="732" y="730" width="1" height="10" fill="#c0c0c0"/><rect x="736" y="728" width="1" height="12" fill="#c0c0c0"/><rect x="740" y="728" width="1" height="12" fill="#c0c0c0"/><rect x="744" y="726" width="1" height="14" fill="#c0c0c0"/><rect x="748" y="726" width="1" height="14" fill="#c0c0c0"/><rect x="752" y="726" width="1" height="14" fill="#c0c0c0"/><rect x="756" y="726" width="1" height="14" fill="#c0c0c0"/><rect x="760" y="727" width="1" height="13" fill="#c0c0c0"/><rect x="764" y="728" width="1" height="12" fill="#c0c0c0"/><rect x="768" y="729" width="1" height="11" fill="#c0c0c0"/><rect x="772" y="729" width="1" height="11" fill="#c0c0c0"/><rect x="776" y="729" width="1" height="11" fill="#c0c0c0"/><rect x="780" y="728" width="1" height="12" fill="#c0c0c0"/><rect x="784" y="728" width="1" height="12" fill="#c0c0c0"/><rect x="788" y="728" width="1" height="12" fill="#c0c0c0"/><rect x="792" y="729" width="1" height="11" fill="#c0c0c0"/><rect x="796" y="734" width="1" height="6" fill="#c0c0c0"/><rect x="800" y="738" width="1" height="2" fill="#c0c0c0"/><rect x="804" y="739" width="1" height="3" fill="#c0c0c0"/><rect x="808" y="739" width="1" height="5" fill="#c0c0c0"/><rect x="812" y="739" width="1" height="6" fill="#c0c0c0"/><rect x="816" y="739" width="1" height="5" fill="#c0c0c0"/><rect x="820" y="739" width="1" height="4" fill="#c0c0c0"/><rect x="824" y="739" width="1" height="2" fill="#c0c0c0"/><rect x="828" y="739" width="1" height="1" fill="#c0c0c0"/><rect x="832" y="738" width="1" height="2" fill="#c0c0c0"/><rect x="836" y="738" width="1" height="2" fill="#c0c0c0"/><rect x="840" y="739" width="1" height="1" fill="#c0c0c0"/><rect x="844" y="739" width="1" height="2" fill="#c0c0c0"/><rect x="848" y="739" width="1" height="5" fill="#c0c0c0"/><rect x="852" y="739" width="1" height="7" fill="#c0c0c0"/><rect x="856" y="739" width="1" height="8" fill="#c0c0c0"/><rect x="860" y="739" width="1" height="6" fill="#c0c0c0"/><rect x="864" y="739" width="1" height="4" fill="#c0c0c0"/><rect x="868" y="739" width="1" height="2" fill="#c0c0c0"/><rect x="872" y="738" width="1" height="2" fill="#c0c0c0"/><rect x="876" y="736" width="1" height="4" fill="#c0c0c0"/><rect x="880" y="735" width="1" height="5" fill="#c0c0c0"/><rect x="884" y="735" width="1" height="5" fill="#c0c0c0"/><rect x="888" y="737" width="1" height="3" fill="#c0c0c0"/><rect x="892" y="739" width="1" height="1" fill="#c0c0c0"/><rect x="896" y="739" width="1" height="2" fill="#c0c0c0"/><rect x="900" y="739" width="1" height="2" fill="#c0c0c0"/><rect x="904" y="739" width="1" height="4" fill="#c0c0c0"/><rect x="908" y="739" width="1" height="4" fill="#c0c0c0"/><rect x="912" y="739" width="1" height="3" fill="#c0c0c0"/><rect x="916" y="739" width="1" height="3" fill="#c0c0c0"/><rect x="920" y="739" width="1" height="1" fill="#c0c0c0"/><rect x="924" y="736" width="1" height="4" fill="#c0c0c0"/><rect x="928" y="735" width="1" height="5" fill="#c0c0c0"/><rect x="932" y="733" width="1" height="7" fill="#c0c0c0"/><rect x="936" y="731" width="1" height="9" fill="#c0c0c0"/><rect x="940" y="730" width="1" height="10" fill="#c0c0c0"/><rect x="944" y="729" width="1" height="11" fill="#c0c0c0"/><rect x="948" y="728" width="1" height="12" fill="#c0c0c0"/><rect x="952" y="730" width="1" height="10" fill="#c0c0c0"/><rect x="956" y="735" width="1" height="5" fill="#c0c0c0"/><rect x="960" y="738" width="1" height="2" fill="#c0c0c0"/><rect x="964" y="739" width="1" height="2" fill="#c0c0c0"/><rect x="968" y="739" width="1" height="3" fill="#c0c0c0"/><rect x="972" y="739" width="1" height="4" fill="#c0c0c0"/><rect x="976" y="739" width="1" height="5" fill="#c0c0c0"/><rect x="980" y="739" width="1" height="7" fill="#c0c0c0"/><rect x="984" y="739" width="1" height="9" fill="#c0c0c0"/><rect x="988" y="739" width="1" height="9" fill="#c0c0c0"/><rect x="992" y="739" width="1" height="12" fill="#c0c0c0"/><rect x="996" y="739" width="1" height="13" fill="#c0c0c0"/><rect x="1000" y="739" width="1" height="14" fill="#c0c0c0"/><rect x="1004" y="739" width="1" height="16" fill="#c0c0c0"/><rect x="1008" y="739" width="1" height="17" fill="#c0c0c0"/><rect x="1012" y="739" width="1" height="19" fill="#c0c0c0"/><rect x="1016" y="739" width="1" height="19" fill="#c0c0c0"/><rect x="1020" y="739" width="1" height="18" fill="#c0c0c0"/><rect x="1024" y="739" width="1" height="17" fill="#c0c0c0"/><rect x="1028" y="739" width="1" height="18" fill="#c0c0c0"/><rect x="1032" y="739" width="1" height="18" fill="#c0c0c0"/><rect x="1036" y="739" width="1" height="17" fill="#c0c0c0"/><rect x="1040" y="739" width="1" height="19" fill="#c0c0c0"/><rect x="1044" y="739" width="1" height="21" fill="#c0c0c0"/><rect x="1048" y="739" width="1" height="25" fill="#c0c0c0"/><rect x="1052" y="739" width="1" height="28" fill="#c0c0c0"/><rect x="1056" y="739" width="1" height="30" fill="#c0c0c0"/><rect x="1060" y="739" width="1" height="30" fill="#c0c0c0"/><rect x="1064" y="739" width="1" height="30" fill="#c0c0c0"/><rect x="1068" y="739" width="1" height="28" fill="#c0c0c0"/><rect x="1072" y="739" width="1" height="29" fill="#c0c0c0"/><rect x="1076" y="739" width="1" height="27" fill="#c0c0c0"/><rect x="1080" y="739" width="1" height="26" fill="#c0c0c0"/><rect x="1084" y="739" width="1" height="24" fill="#c0c0c0"/><rect x="1088" y="739" width="1" height="21" fill="#c0c0c0"/><rect x="1092" y="739" width="1" height="20" fill="#c0c0c0"/><rect x="1096" y="739" width="1" height="19" fill="#c0c0c0"/><rect x="1100" y="739" width="1" height="19" fill="#c0c0c0"/><rect x="1104" y="739" width="1" height="21" fill="#c0c0c0"/><rect x="1108" y="739" width="1" height="23" fill="#c0c0c0"/><rect x="1112" y="739" width="1" height="22" fill="#c0c0c0"/><rect x="1116" y="739" width="1" height="21" fill="#c0c0c0"/><rect x="1120" y="739" width="1" height="20" fill="#c0c0c0"/><rect x="1124" y="739" width="1" height="19" fill="#c0c0c0"/><rect x="1128" y="739" width="1" height="17" fill="#c0c0c0"/><rect x="1132" y="739" width="1" height="16" fill="#c0c0c0"/><rect x="1136" y="739" width="1" height="14" fill="#c0c0c0"/><rect x="1140" y="739" width="1" height="12" fill="#c0c0c0"/><rect x="1144" y="739" width="1" height="11" fill="#c0c0c0"/><rect x="1148" y="739" width="1" height="9" fill="#c0c0c0"/><rect x="1152" y="739" width="1" height="6" fill="#c0c0c0"/><rect x="1156" y="739" width="1" height="7" fill="#c0c0c0"/><rect x="1160" y="739" width="1" height="9" fill="#c0c0c0"/><rect x="1164" y="739" width="1" height="11" fill="#c0c0c0"/><rect x="1168" y="739" width="1" height="12" fill="#c0c0c0"/><rect x="1172" y="739" width="1" height="10" fill="#c0c0c0"/><rect x="1176" y="739" width="1" height="7" fill="#c0c0c0"/><rect x="1180" y="739" width="1" height="4" fill="#c0c0c0"/><rect x="1184" y="739" width="1" height="1" fill="#c0c0c0"/><rect x="1188" y="737" width="1" height="3" fill="#c0c0c0"/><rect x="1192" y="735" width="1" height="5" fill="#c0c0c0"/><rect x="1196" y="733" width="1" height="7" fill="#c0c0c0"/><rect x="1200" y="732" width="1" height="8" fill="#c0c0c0"/><rect x="1204" y="731" width="1" height="9" fill="#c0c0c0"/><rect x="1208" y="728" width="1" height="12" fill="#c0c0c0"/><rect x="1212" y="727" width="1" height="13" fill="#c0c0c0"/><rect x="1216" y="725" width="1" height="15" fill="#c0c0c0"/><rect x="1220" y="724" width="1" height="16" fill="#c0c0c0"/><rect x="1224" y="723" width="1" height="17" fill="#c0c0c0"/><rect x="1228" y="723" width="1" height="17" fill="#c0c0c0"/><rect x="1232" y="724" width="1" height="16" fill="#c0c0c0"/><rect x="1236" y="726" width="1" height="14" fill="#c0c0c0"/><rect x="1240" y="728" width="1" height="12" fill="#c0c0c0"/><rect x="1244" y="730" width="1" height="10" fill="#c0c0c0"/><rect x="1248" y="731" width="1" height="9" fill="#c0c0c0"/><rect x="1252" y="735" width="1" height="5" fill="#c0c0c0"/><rect x="1256" y="739" width="1" height="1" fill="#c0c0c0"/><rect x="1260" y="739" width="1" height="5" fill="#c0c0c0"/><rect x="1264" y="739" width="1" height="11" fill="#c0c0c0"/><rect x="1268" y="739" width="1" height="18" fill="#c0c0c0"/><rect x="1272" y="739" width="1" height="23" fill="#c0c0c0"/><rect x="1276" y="739" width="1" height="29" fill="#c0c0c0"/><rect x="1280" y="739" width="1" height="39" fill="#c0c0c0"/><rect x="1284" y="739" width="1" height="47" fill="#c0c0c0"/><rect x="1288" y="739" width="1" height="56" fill="#c0c0c0"/><rect x="1292" y="739" width="1" height="61" fill="#c0c0c0"/><rect x="1296" y="739" width="1" height="61" fill="#c0c0c0"/><rect x="1300" y="739" width="1" height="54" fill="#c0c0c0"/><rect x="1304" y="739" width="1" height="51" fill="#c0c0c0"/></g><polyline points="4.5,728.4 8.5,730.2 12.5,731.8 16.5,733.1 20.5,734.1 24.5,734.7 28.5,734.8 32.5,734.5 36.5,734.0 40.5,732.8 44.5,731.5 48.5,730.2 52.5,729.2 56.5,728.6 60.5,728.3 64.5,728.6 68.5,729.3 72.5,730.5 76.5,732.5 80.5,734.8 84.5,737.2 88.5,739.7 92.5,742.0 96.5,744.2 100.5,746.1 104.5,747.7 108.5,748.9 112.5,749.4 116.5,749.5 120.5,749.3 124.5,748.6 128.5,747.6 132.5,746.4 136.5,745.2 140.5,744.1 144.5,742.8 148.5,741.5 152.5,740.3 156.5,739.1 160.5,737.9 164.5,736.7 168.5,735.3 172.5,733.5 176.5,731.3 180.5,729.1 184.5,726.8 188.5,724.1 192.5,721.4 196.5,718.7 200.5,716.2 204.5,714.0 208.5,712.4 212.5,711.1 216.5,710.5 220.5,710.2 224.5,710.5 228.5,711.2 232.5,712.1 236.5,713.0 240.5,714.0 244.5,715.4 248.5,717.2 252.5,719.0 256.5,721.1 260.5,723.5 264.5,725.9 268.5,728.3 272.5,730.9 276.5,733.4 280.5,735.7 284.5,737.5 288.5,739.2 292.5,740.6 296.5,742.0 300.5,743.5 304.5,744.9 308.5,746.0 312.5,747.1 316.5,747.8 320.5,748.7 324.5,749.7 328.5,750.5 332.5,751.5 336.5,752.6 340.5,754.0 344.5,756.1 348.5,758.5 352.5,761.0 356.5,763.3 360.5,765.1 364.5,766.4 368.5,766.8 372.5,766.5 376.5,765.5 380.5,763.7 384.5,761.6 388.5,760.2 392.5,759.4 396.5,759.5 400.5,760.6 404.5,762.4 408.5,764.8 412.5,767.4 416.5,770.4 420.5,773.3 424.5,775.1 428.5,775.6 432.5,775.2 436.5,773.8 440.5,771.3 444.5,768.1 448.5,764.5 452.5,760.5 456.5,756.4 460.5,752.9 464.5,750.1 468.5,747.9 472.5,746.0 476.5,744.7 480.5,743.7 484.5,743.3 488.5,743.5 492.5,743.9 496.5,744.5 500.5,744.9 504.5,745.1 508.5,744.9 512.5,744.5 516.5,743.8 520.5,742.9 524.5,741.7 528.5,740.4 532.5,738.7 536.5,737.6 540.5,736.8 544.5,737.2 548.5,738.2 552.5,740.3 556.5,742.7 560.5,745.5 564.5,748.5 568.5,752.0 572.5,754.9 576.5,757.5 580.5,759.1 584.5,760.0 588.5,760.1 592.5,759.7 596.5,758.7 600.5,757.2 604.5,755.1 608.5,753.3 612.5,751.7 616.5,750.2 620.5,748.8 624.5,747.5 628.5,746.1 632.5,744.4 636.5,742.6 640.5,740.7 644.5,738.6 648.5,736.6 652.5,734.6 656.5,732.8 660.5,731.1 664.5,729.6 668.5,728.4 672.5,727.5 676.5,727.0 680.5,726.6 684.5,726.0 688.5,725.4 692.5,724.8 696.5,724.2 700.5,723.7 704.5,723.4 708.5,723.5 712.5,723.7 716.5,724.2 720.5,724.7 724.5,725.2 728.5,725.8 732.5,726.6 736.5,727.2 740.5,727.7 744.5,727.9 748.5,727.9 752.5,727.5 756.5,727.1 760.5,726.9 764.5,726.7 768.5,726.5 772.5,726.6 776.5,726.7 780.5,726.9 784.5,727.2 788.5,727.5 792.5,727.8 796.5,728.6 800.5,729.7 804.5,731.2 808.5,732.9 812.5,734.7 816.5,736.4 820.5,738.1 824.5,739.6 828.5,740.8 832.5,741.3 836.5,741.2 840.5,740.8 844.5,740.5 848.5,740.4 852.5,740.5 856.5,740.9 860.5,741.3 864.5,741.7 868.5,742.0 872.5,742.1 876.5,741.8 880.5,741.1 884.5,740.2 888.5,739.2 892.5,738.4 896.5,737.9 900.5,737.6 904.5,737.9 908.5,738.4 912.5,739.1 916.5,739.7 920.5,740.2 924.5,740.1 928.5,739.5 932.5,738.7 936.5,737.5 940.5,736.1 944.5,734.5 948.5,732.9 952.5,731.6 956.5,731.2 960.5,731.4 964.5,732.2 968.5,733.2 972.5,734.5 976.5,736.0 980.5,738.0 984.5,740.2 988.5,742.2 992.5,743.9 996.5,745.4 1000.5,746.7 1004.5,748.2 1008.5,749.7 1012.5,751.3 1016.5,752.6 1020.5,753.7 1024.5,754.6 1028.5,755.2 1032.5,755.8 1036.5,756.2 1040.5,756.4 1044.5,756.9 1048.5,757.5 1052.5,758.5 1056.5,759.8 1060.5,761.2 1064.5,762.6 1068.5,763.8 1072.5,765.0 1076.5,765.9 1080.5,766.4 1084.5,766.2 1088.5,765.6 1092.5,764.5 1096.5,763.2 1100.5,762.1 1104.5,761.3 1108.5,760.6 1112.5,760.1 1116.5,759.6 1120.5,759.2 1124.5,758.9 1128.5,758.5 1132.5,758.2 1136.5,757.5 1140.5,756.6 1144.5,755.3 1148.5,753.8 1152.5,752.1 1156.5,750.7 1160.5,749.6 1164.5,749.0 1168.5,748.6 1172.5,748.1 1176.5,747.6 1180.5,746.8 1184.5,745.9 1188.5,745.1 1192.5,743.9 1196.5,742.3 1200.5,740.3 1204.5,738.1 1208.5,735.8 1212.5,733.6 1216.5,731.5 1220.5,729.8 1224.5,728.2 1228.5,726.8 1232.5,725.8 1236.5,725.1 1240.5,724.8 1244.5,724.9 1248.5,725.4 1252.5,726.5 1256.5,728.2 1260.5,730.5 1264.5,733.6 1268.5,737.2 1272.5,741.2 1276.5,745.7 1280.5,751.0 1284.5,757.2 1288.5,763.8 1292.5,770.5 1296.5,776.7 1300.5,781.5 1304.5,785.2" fill="none" stroke="#ff0000" stroke-width="1" stroke-dasharray="3,3"/><text x="8.5" y="715" font-size="9.6" fill="#000" stroke="#000" stroke-width="0.2" textLength="153" lengthAdjust="spacingAndGlyphs">MACD(12,26,9) -0.008981 -0.008153</text><rect x="1641" y="704" width="2" height="1" fill="#000"/><rect x="1641" y="739" width="2" height="1" fill="#000"/><rect x="1641" y="804" width="2" height="1" fill="#000"/><text x="1644.5" y="713" font-size="9.6" fill="#000" stroke="#000" stroke-width="0.2" textLength="37" lengthAdjust="spacingAndGlyphs">0.006167</text><text x="1644.5" y="743" font-size="9.6" fill="#000" stroke="#000" stroke-width="0.2" textLength="17.5" lengthAdjust="spacingAndGlyphs">0.00</text><text x="1644" y="802" font-size="9.6" fill="#000" stroke="#000" stroke-width="0.2" textLength="42" lengthAdjust="spacingAndGlyphs">-0.011531</text><rect x="4" y="806" width="1" height="3" fill="#000"/><text x="3" y="818" font-size="9.6" letter-spacing="-0.16" stroke="#000" stroke-width="0.2">28 Feb 2019</text><rect x="68" y="806" width="1" height="3" fill="#000"/><text x="67" y="818" font-size="9.6" letter-spacing="-0.16" stroke="#000" stroke-width="0.2">19 Mar 2019</text><rect x="132" y="806" width="1" height="3" fill="#000"/><text x="131" y="818" font-size="9.6" letter-spacing="-0.16" stroke="#000" stroke-width="0.2">6 Apr 2019</text><rect x="196" y="806" width="1" height="3" fill="#000"/><text x="195" y="818" font-size="9.6" letter-spacing="-0.16" stroke="#000" stroke-width="0.2">25 Apr 2019</text><rect x="260" y="806" width="1" height="3" fill="#000"/><text x="259" y="818" font-size="9.6" letter-spacing="-0.16" stroke="#000" stroke-width="0.2">14 May 2019</text><rect x="324" y="806" width="1" height="3" fill="#000"/><text x="323" y="818" font-size="9.6" letter-spacing="-0.16" stroke="#000" stroke-width="0.2">1 Jun 2019</text><rect x="388" y="806" width="1" height="3" fill="#000"/><text x="387" y="818" font-size="9.6" letter-spacing="-0.16" stroke="#000" stroke-width="0.2">20 Jun 2019</text><rect x="452" y="806" width="1" height="3" fill="#000"/><text x="451" y="818" font-size="9.6" letter-spacing="-0.16" stroke="#000" stroke-width="0.2">9 Jul 2019</text><rect x="516" y="806" width="1" height="3" fill="#000"/><text x="515" y="818" font-size="9.6" letter-spacing="-0.16" stroke="#000" stroke-width="0.2">27 Jul 2019</text><rect x="580" y="806" width="1" height="3" fill="#000"/><text x="579" y="818" font-size="9.6" letter-spacing="-0.16" stroke="#000" stroke-width="0.2">15 Aug 2019</text><rect x="644" y="806" width="1" height="3" fill="#000"/><text x="643" y="818" font-size="9.6" letter-spacing="-0.16" stroke="#000" stroke-width="0.2">3 Sep 2019</text><rect x="708" y="806" width="1" height="3" fill="#000"/><text x="707" y="818" font-size="9.6" letter-spacing="-0.16" stroke="#000" stroke-width="0.2">21 Sep 2019</text><rect x="772" y="806" width="1" height="3" fill="#000"/><text x="771" y="818" font-size="9.6" letter-spacing="-0.16" stroke="#000" stroke-width="0.2">10 Oct 2019</text><rect x="836" y="806" width="1" height="3" fill="#000"/><text x="835" y="818" font-size="9.6" letter-spacing="-0.16" stroke="#000" stroke-width="0.2">29 Oct 2019</text><rect x="900" y="806" width="1" height="3" fill="#000"/><text x="899" y="818" font-size="9.6" letter-spacing="-0.16" stroke="#000" stroke-width="0.2">16 Nov 2019</text><rect x="964" y="806" width="1" height="3" fill="#000"/><text x="963" y="818" font-size="9.6" letter-spacing="-0.16" stroke="#000" stroke-width="0.2">5 Dec 2019</text><rect x="1028" y="806" width="1" height="3" fill="#000"/><text x="1027" y="818" font-size="9.6" letter-spacing="-0.16" stroke="#000" stroke-width="0.2">24 Dec 2019</text><rect x="1092" y="806" width="1" height="3" fill="#000"/><text x="1091" y="818" font-size="9.6" letter-spacing="-0.16" stroke="#000" stroke-width="0.2">11 Jan 2020</text><rect x="1156" y="806" width="1" height="3" fill="#000"/><text x="1155" y="818" font-size="9.6" letter-spacing="-0.16" stroke="#000" stroke-width="0.2">30 Jan 2020</text><rect x="1220" y="806" width="1" height="3" fill="#000"/><text x="1219" y="818" font-size="9.6" letter-spacing="-0.16" stroke="#000" stroke-width="0.2">18 Feb 2020</text><rect x="1284" y="806" width="1" height="3" fill="#000"/><text x="1283" y="818" font-size="9.6" letter-spacing="-0.16" stroke="#000" stroke-width="0.2">7 Mar 2020</text><rect x="0" y="826" width="1684" height="1" fill="#e3e3e3"/><rect x="0" y="827" width="1684" height="1" fill="#ffffff"/><rect x="0" y="828" width="1684" height="1" fill="#000000"/><rect x="0" y="829" width="1684" height="1" fill="#ffffff"/><rect x="0" y="830" width="1684" height="18" fill="#f0f0f0"/><rect x="0" y="848" width="1684" height="1" fill="#fafafa"/><rect x="0" y="828" width="1" height="21" fill="#696969"/><rect x="109" y="828" width="100" height="19" fill="#000000"/><rect x="110" y="828" width="98" height="18" fill="#ffffff"/><rect x="108" y="829" width="1" height="18" fill="#ffffff"/><rect x="109" y="847" width="100" height="1" fill="#d0d0d0"/><text x="17.5" y="843" font-size="12" fill="#6d6d6d">EURUSD,Daily</text><text x="119.5" y="843" font-size="12" fill="#000000">USDCHF,Daily</text><text x="220.5" y="843" font-size="12" fill="#6d6d6d">AUDUSD,Daily</text><text x="324" y="843" font-size="12" fill="#6d6d6d">USDCAD,Daily</text><text x="427.5" y="843" font-size="12" fill="#6d6d6d">USDCNH,Daily</text><text x="533" y="843" font-size="12" fill="#6d6d6d">EURUSD,Daily</text><text x="637.5" y="843" font-size="12" fill="#6d6d6d">GBPUSD,H4</text><text x="729.5" y="843" font-size="12" fill="#6d6d6d">XAUUSD,M5</text><text x="824.5" y="843" font-size="12" fill="#6d6d6d">HK50,H1</text><text x="896.5" y="843" font-size="12" fill="#6d6d6d">UK100,H1</text><text x="976.5" y="843" font-size="12" fill="#6d6d6d">UK100,H1</text><text x="1056.5" y="843" font-size="12" fill="#6d6d6d">GER30,H1</text><text x="1135.5" y="843" font-size="12" fill="#6d6d6d">FRA40,H1</text><rect x="313" y="831" width="1" height="14" fill="#6d6d6d"/><rect x="417" y="831" width="1" height="14" fill="#6d6d6d"/><rect x="521" y="831" width="1" height="14" fill="#6d6d6d"/><rect x="625" y="831" width="1" height="14" fill="#6d6d6d"/><rect x="717" y="831" width="1" height="14" fill="#6d6d6d"/><rect x="813" y="831" width="1" height="14" fill="#6d6d6d"/><rect x="886" y="831" width="1" height="14" fill="#6d6d6d"/><rect x="965" y="831" width="1" height="14" fill="#6d6d6d"/><rect x="1045" y="831" width="1" height="14" fill="#6d6d6d"/><rect x="1125" y="831" width="1" height="14" fill="#6d6d6d"/><rect x="1201" y="831" width="1" height="14" fill="#6d6d6d"/><path d="M1659 834 L1659 841 L1655.5 837.5 Z" fill="#888" shape-rendering="auto"/><path d="M1675 834 L1675 841 L1678.5 837.5 Z" fill="#888" shape-rendering="auto"/></svg></body></html>
